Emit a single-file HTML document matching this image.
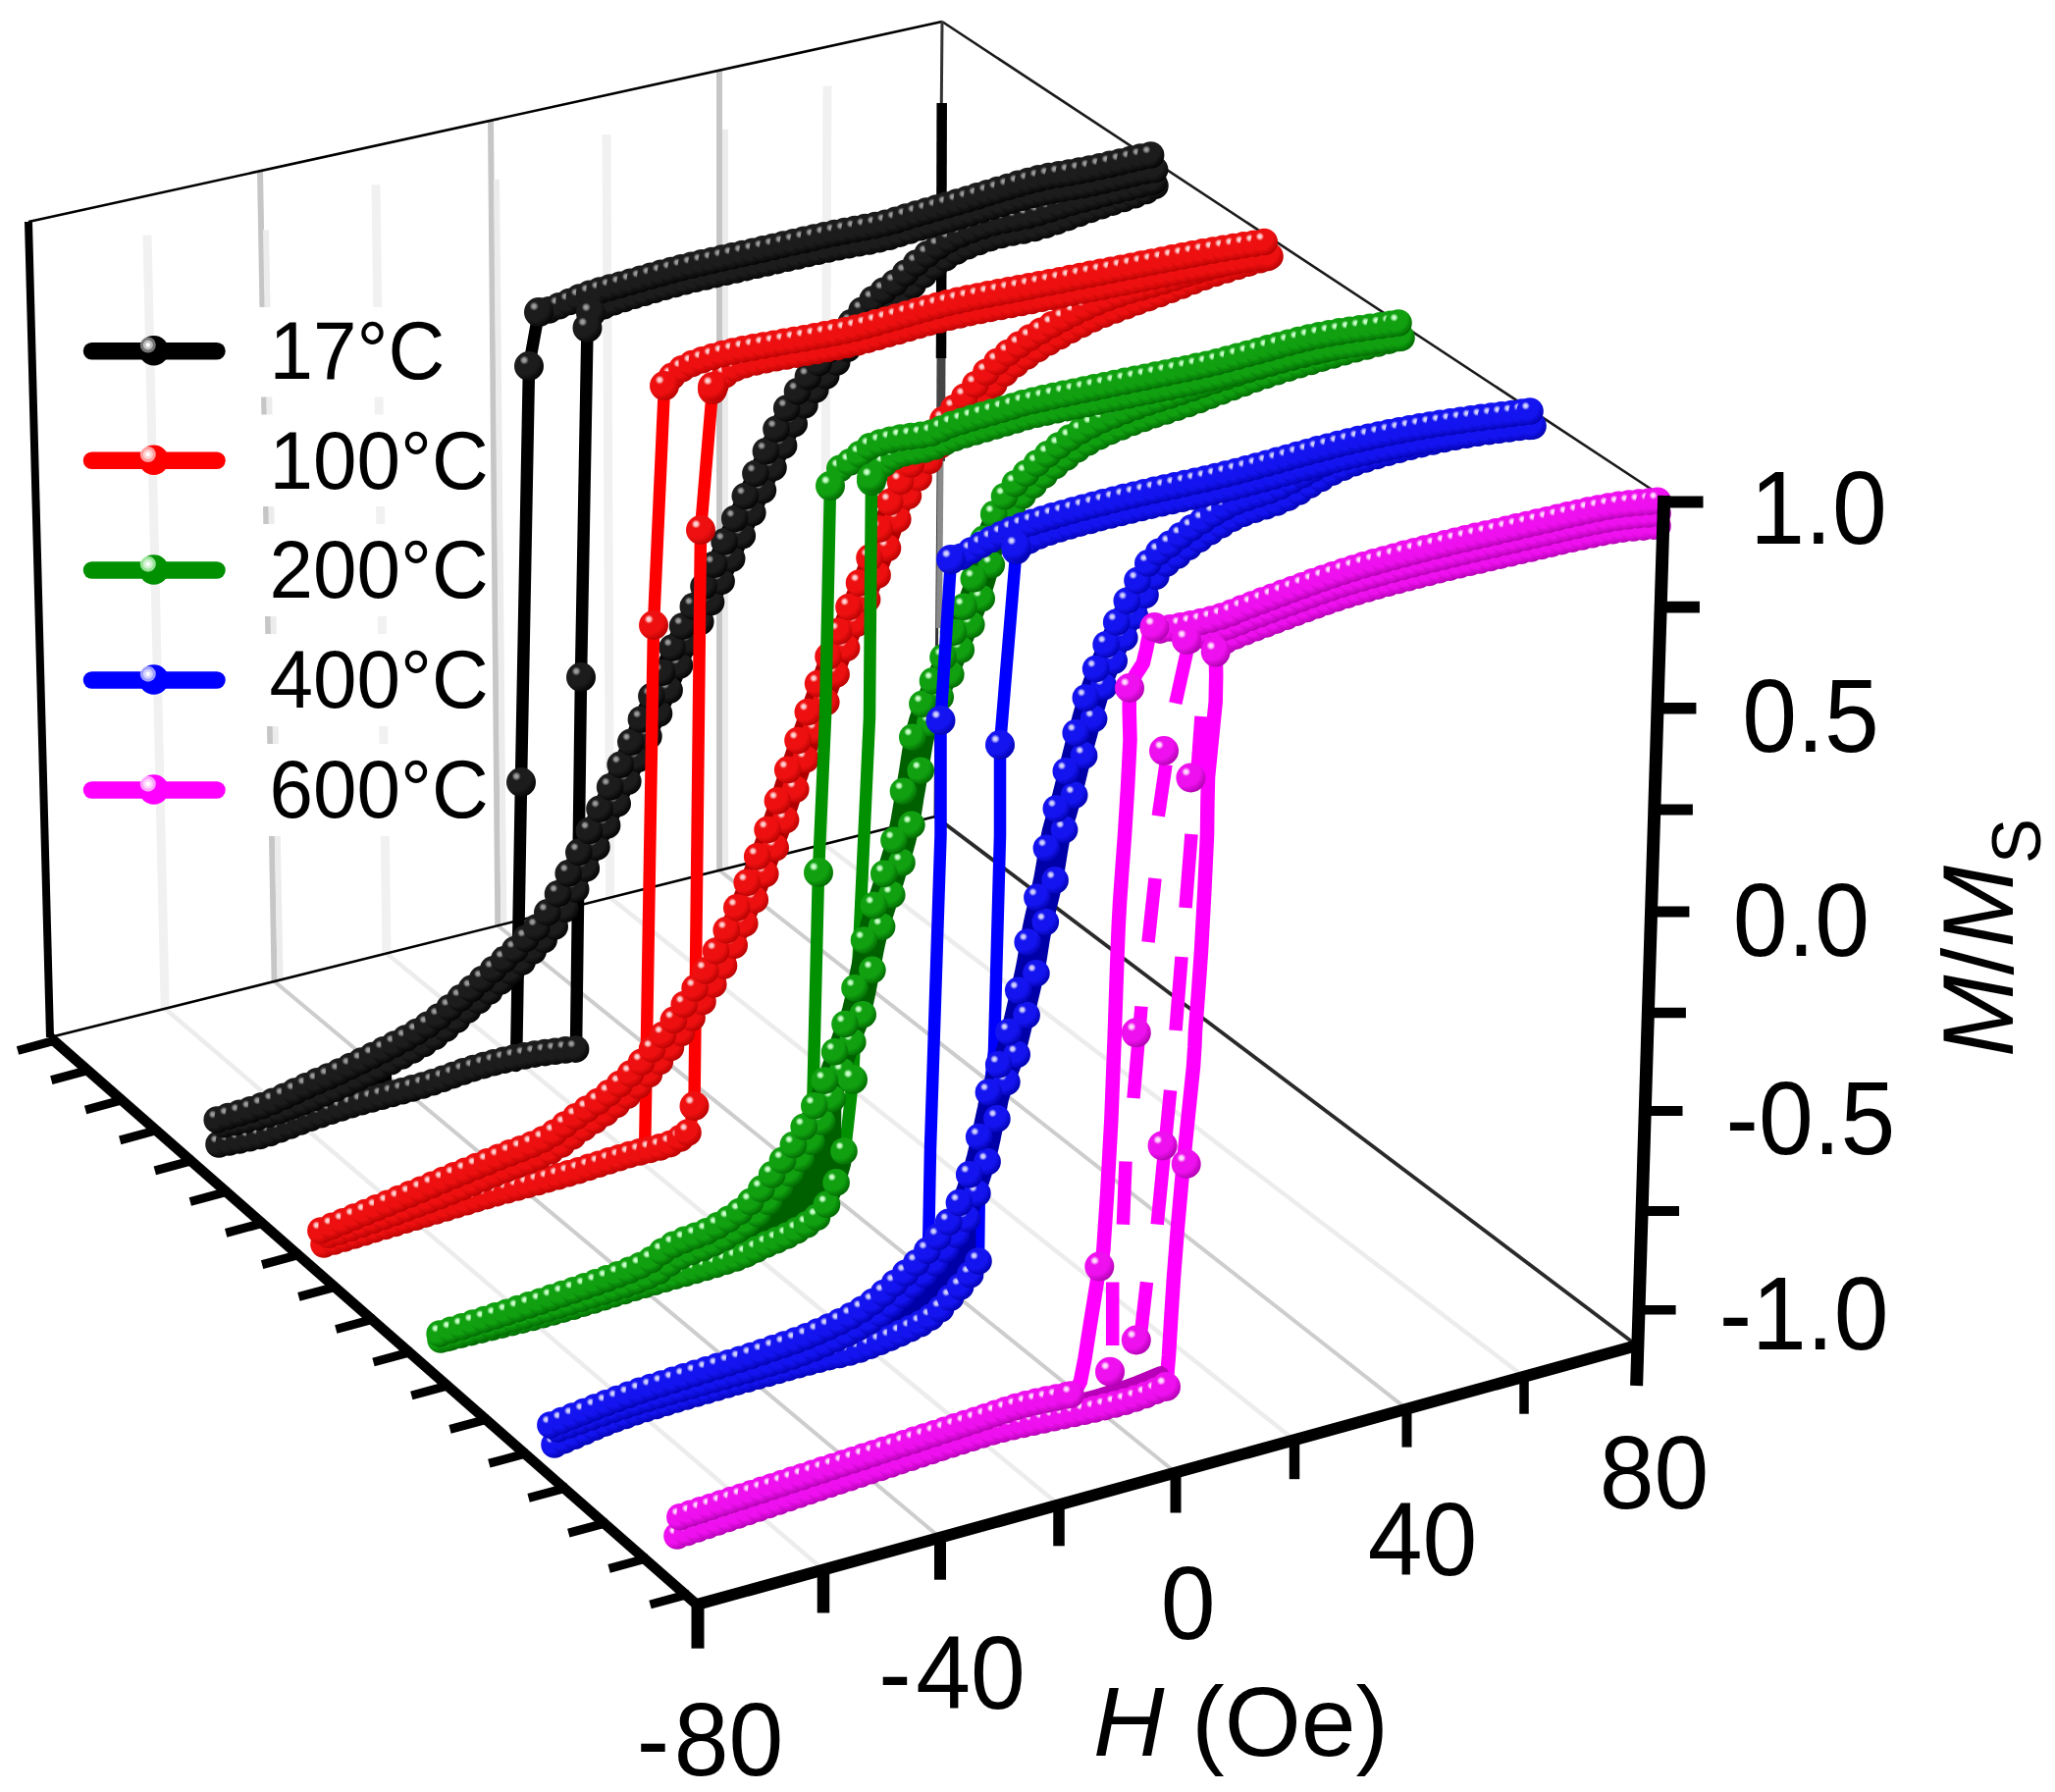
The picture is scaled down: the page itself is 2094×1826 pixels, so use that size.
<!DOCTYPE html>
<html lang="en"><head><meta charset="utf-8"><title>M/Ms vs H hysteresis loops at different temperatures</title>
<style>html,body{margin:0;padding:0;background:#fff}body{width:2094px;height:1826px;overflow:hidden}</style></head>
<body>
<svg width="2094" height="1826" viewBox="0 0 2094 1826" style="display:block" font-family="'Liberation Sans', sans-serif">
<defs>
<radialGradient id="gk" cx="0.34" cy="0.30" r="0.78"><stop offset="0" stop-color="#9a9a9a"/><stop offset="0.07" stop-color="#9a9a9a"/><stop offset="0.2" stop-color="#1c1c1c"/><stop offset="0.62" stop-color="#1c1c1c"/><stop offset="1" stop-color="#000000"/></radialGradient>
<radialGradient id="gr" cx="0.34" cy="0.30" r="0.78"><stop offset="0" stop-color="#ffd0d0"/><stop offset="0.07" stop-color="#ffd0d0"/><stop offset="0.2" stop-color="#ee1010"/><stop offset="0.62" stop-color="#ee1010"/><stop offset="1" stop-color="#b00000"/></radialGradient>
<radialGradient id="gg" cx="0.34" cy="0.30" r="0.78"><stop offset="0" stop-color="#c8ffc8"/><stop offset="0.07" stop-color="#c8ffc8"/><stop offset="0.2" stop-color="#10a010"/><stop offset="0.62" stop-color="#10a010"/><stop offset="1" stop-color="#006000"/></radialGradient>
<radialGradient id="gb" cx="0.34" cy="0.30" r="0.78"><stop offset="0" stop-color="#d0d0ff"/><stop offset="0.07" stop-color="#d0d0ff"/><stop offset="0.2" stop-color="#1414f0"/><stop offset="0.62" stop-color="#1414f0"/><stop offset="1" stop-color="#0000a8"/></radialGradient>
<radialGradient id="gm" cx="0.34" cy="0.30" r="0.78"><stop offset="0" stop-color="#ffd8ff"/><stop offset="0.07" stop-color="#ffd8ff"/><stop offset="0.2" stop-color="#ee10ee"/><stop offset="0.62" stop-color="#ee10ee"/><stop offset="1" stop-color="#a800a8"/></radialGradient>
</defs>
<rect width="2094" height="1826" fill="#fff"/>
<g stroke-linecap="butt">
<line x1="150.0" y1="239.5" x2="168.2" y2="1027.8" stroke="#f1f1f1" stroke-width="9" stroke-linecap="butt" />
<line x1="168.2" y1="1027.8" x2="839.0" y2="1599.5" stroke="#ececec" stroke-width="4.5" stroke-linecap="butt" />
<line x1="265.0" y1="174.3" x2="279.6" y2="1000.0" stroke="#c6c6c6" stroke-width="6" stroke-linecap="butt" />
<line x1="271.0" y1="234.3" x2="285.6" y2="1000.0" stroke="#ececec" stroke-width="6" stroke-linecap="butt" />
<line x1="279.6" y1="1000.0" x2="958.0" y2="1566.7" stroke="#cdcdcd" stroke-width="4" stroke-linecap="butt" />
<line x1="383.0" y1="188.4" x2="394.0" y2="971.4" stroke="#f1f1f1" stroke-width="9" stroke-linecap="butt" />
<line x1="394.0" y1="971.4" x2="1079.0" y2="1533.3" stroke="#ececec" stroke-width="4.5" stroke-linecap="butt" />
<line x1="500.0" y1="122.8" x2="507.3" y2="943.2" stroke="#c6c6c6" stroke-width="6" stroke-linecap="butt" />
<line x1="506.0" y1="182.8" x2="513.3" y2="943.2" stroke="#ececec" stroke-width="6" stroke-linecap="butt" />
<line x1="507.3" y1="943.2" x2="1198.0" y2="1500.5" stroke="#cdcdcd" stroke-width="4" stroke-linecap="butt" />
<line x1="618.0" y1="136.9" x2="621.7" y2="914.7" stroke="#f1f1f1" stroke-width="9" stroke-linecap="butt" />
<line x1="621.7" y1="914.7" x2="1319.0" y2="1467.2" stroke="#ececec" stroke-width="4.5" stroke-linecap="butt" />
<line x1="733.0" y1="71.7" x2="733.1" y2="886.9" stroke="#c6c6c6" stroke-width="6" stroke-linecap="butt" />
<line x1="739.0" y1="131.7" x2="739.1" y2="886.9" stroke="#ececec" stroke-width="6" stroke-linecap="butt" />
<line x1="733.1" y1="886.9" x2="1433.5" y2="1435.6" stroke="#cdcdcd" stroke-width="4" stroke-linecap="butt" />
<line x1="843.0" y1="87.6" x2="839.6" y2="860.3" stroke="#f1f1f1" stroke-width="9" stroke-linecap="butt" />
<line x1="839.6" y1="860.3" x2="1553.0" y2="1402.7" stroke="#ececec" stroke-width="4.5" stroke-linecap="butt" />
</g>
<rect x="252" y="313" width="244" height="91.5" fill="#fff"/>
<rect x="252" y="422.5" width="244" height="93.5" fill="#fff"/>
<rect x="252" y="534" width="244" height="94" fill="#fff"/>
<rect x="252" y="646" width="244" height="94" fill="#fff"/>
<rect x="252" y="758" width="244" height="94" fill="#fff"/>
<line x1="29.0" y1="226.0" x2="960.0" y2="22.0" stroke="#000" stroke-width="2.6" stroke-linecap="butt" />
<line x1="960.0" y1="22.0" x2="1694.0" y2="506.0" stroke="#1a1a1a" stroke-width="2.6" stroke-linecap="butt" />
<line x1="51.0" y1="1057.0" x2="953.0" y2="832.0" stroke="#000" stroke-width="2.6" stroke-linecap="butt" />
<line x1="953.0" y1="832.0" x2="1668.0" y2="1371.0" stroke="#2a2a2a" stroke-width="3.8" stroke-linecap="butt" />
<line x1="960.0" y1="22.0" x2="953.0" y2="832.0" stroke="#333" stroke-width="3" stroke-linecap="butt" />
<line x1="959.7" y1="105.0" x2="959.0" y2="365.0" stroke="#000" stroke-width="10.5" stroke-linecap="butt" />
<line x1="959.0" y1="365.0" x2="958.5" y2="470.0" stroke="#444" stroke-width="9" stroke-linecap="butt" />
<line x1="958.5" y1="470.0" x2="957.0" y2="640.0" stroke="#8a8a8a" stroke-width="6" stroke-linecap="butt" />
<line x1="29.0" y1="226.0" x2="51.0" y2="1057.0" stroke="#000" stroke-width="8" stroke-linecap="butt" />
<path d="M549.0 318.1 L539.0 373.0 L531.0 797.0 L526.0 1086.0" fill="none" stroke="#000000" stroke-width="12.5" stroke-linejoin="round" stroke-linecap="round" />
<path d="M602.0 319.1 L598.5 334.0 L592.0 690.0 L587.0 1069.0" fill="none" stroke="#000000" stroke-width="12.5" stroke-linejoin="round" stroke-linecap="round" />
<path d="M222.0 1144.0 L228.0 1142.4 L234.0 1140.9 L240.0 1139.4 L246.1 1137.9 L252.1 1136.3 L258.1 1134.7 L264.0 1132.9 L270.0 1131.0 L275.9 1128.9 L281.8 1126.7 L287.7 1124.4 L293.6 1122.0 L299.4 1119.5 L305.3 1117.0 L311.1 1114.5 L317.0 1112.0 L322.7 1109.6 L328.2 1107.3 L333.6 1105.0 L339.1 1102.6 L344.7 1100.1 L350.6 1097.4 L357.0 1094.4 L364.0 1091.0 L371.8 1087.1 L380.4 1082.9 L389.6 1078.3 L399.0 1073.6 L408.4 1068.7 L417.6 1063.7 L426.2 1058.8 L434.0 1054.0 L441.1 1049.2 L447.6 1044.4 L453.8 1039.5 L459.7 1034.6 L465.3 1029.8 L470.6 1025.0 L475.9 1020.4 L481.0 1016.0 L486.0 1011.7 L490.9 1007.6 L495.5 1003.5 L499.9 999.6 L504.2 995.7 L508.3 992.0 L512.2 988.4 L516.0 985.0 L519.5 981.8 L522.7 978.9 L525.7 976.3 L528.5 973.7 L531.3 971.1 L534.0 968.3 L536.9 965.3 L540.0 962.0 L543.1 958.7 L546.0 955.9 L548.9 953.0 L551.8 949.9 L555.0 946.2 L558.5 941.5 L562.5 935.6 L567.0 928.0 L572.2 918.6 L578.0 907.6 L584.3 895.3 L590.9 882.1 L597.7 868.2 L604.5 854.0 L611.4 839.8 L618.0 826.0 L624.7 811.8 L631.8 796.8 L639.0 781.2 L646.2 765.6 L653.2 750.4 L659.7 735.9 L665.7 722.6 L671.0 711.0 L675.3 701.2 L678.9 692.9 L681.8 685.9 L684.4 679.6 L686.8 673.7 L689.2 667.9 L691.9 661.8 L695.0 655.0 L698.6 647.7 L702.4 640.3 L706.3 632.7 L710.3 625.2 L714.4 617.6 L718.4 610.0 L722.3 602.5 L726.0 595.0 L729.5 587.7 L732.8 580.6 L736.0 573.6 L739.2 566.6 L742.4 559.5 L745.7 552.1 L749.2 544.3 L753.0 536.0 L757.2 526.9 L761.7 517.0 L766.5 506.6 L771.3 496.1 L776.1 485.6 L780.8 475.6 L785.1 466.3 L789.0 458.0 L792.4 450.8 L795.3 444.5 L798.0 438.8 L800.5 433.6 L802.9 428.6 L805.4 423.9 L808.1 419.0 L811.0 414.0 L814.1 409.0 L817.1 404.3 L820.2 399.8 L823.4 395.4 L826.8 390.8 L830.5 386.0 L834.5 380.8 L839.0 375.0 L844.2 368.4 L850.0 361.1 L856.3 353.2 L862.8 345.1 L869.4 337.2 L875.7 329.6 L881.7 322.8 L887.0 317.0 L891.8 312.3 L896.2 308.3 L900.3 305.0 L904.1 302.1 L907.8 299.6 L911.3 297.1 L914.7 294.7 L918.0 292.0 L921.1 289.3 L923.9 286.7 L926.5 284.2 L929.0 281.8 L931.5 279.4 L934.1 277.0 L936.9 274.6 L940.0 272.0 L943.4 269.3 L946.9 266.5 L950.5 263.6 L954.2 260.8 L958.2 257.9 L962.3 255.1 L966.5 252.5 L971.0 250.0 L975.7 247.7 L980.7 245.4 L985.9 243.3 L991.3 241.2 L996.8 239.2 L1002.2 237.4 L1007.7 235.6 L1013.0 234.0 L1018.2 232.6 L1023.2 231.4 L1028.3 230.5 L1033.3 229.6 L1038.4 228.7 L1043.7 227.6 L1049.2 226.5 L1055.0 225.0 L1061.1 223.2 L1067.5 221.3 L1074.1 219.1 L1080.9 216.9 L1087.7 214.6 L1094.6 212.3 L1101.3 210.1 L1108.0 208.0 L1114.8 206.0 L1121.9 203.9 L1129.2 201.8 L1136.3 199.8 L1143.2 197.9 L1149.6 196.1 L1155.2 194.4 L1160.0 193.0 L1163.7 191.8 L1166.5 190.9 L1168.6 190.1 L1170.2 189.4 L1171.6 188.9 L1172.8 188.3 L1174.2 187.7 L1176.0 187.0" fill="none" stroke="#000000" stroke-width="30" stroke-linejoin="round" stroke-linecap="butt" />
<path d="M549.0 318.1 L555.2 317.6 L561.4 315.2 L567.6 312.7 L574.0 310.1 L580.4 307.4 L586.9 304.6 L593.6 301.8 L601.0 299.1 L608.6 298.7 L616.5 298.8 L625.4 299.0 L636.0 296.6 L648.6 293.0 L662.9 288.8 L678.4 284.4 L695.0 280.1 L713.0 275.8 L732.3 271.4 L752.3 267.0 L772.0 262.6 L792.1 258.0 L812.8 253.3 L832.5 248.9 L850.0 245.1 L864.6 242.2 L877.2 239.9 L888.5 237.8 L899.0 235.6 L908.1 233.3 L915.8 230.9 L923.6 228.5 L933.0 225.6 L944.3 222.3 L956.8 218.8 L970.3 214.9 L985.0 210.6 L1001.6 205.6 L1019.9 200.0 L1038.3 194.6 L1055.0 190.1 L1069.5 186.9 L1082.6 184.6 L1095.2 182.5 L1108.0 180.1 L1121.9 177.0 L1136.4 173.7 L1149.6 170.5 L1160.0 168.1 L1166.4 166.7 L1169.8 166.0 L1172.1 165.6 L1175.0 165.1" fill="none" stroke="#000000" stroke-width="18" stroke-linejoin="round" stroke-linecap="round" />
<path d="M616.5 298.8 L625.4 299.0 L636.0 296.6 L648.6 293.0 L662.9 288.8 L678.4 284.4 L695.0 280.1 L713.0 275.8 L732.3 271.4 L752.3 267.0 L772.0 262.6 L792.1 258.0 L812.8 253.3 L832.5 248.9 L850.0 245.1 L864.6 242.2 L877.2 239.9 L888.5 237.8 L899.0 235.6 L908.1 233.3 L915.8 230.9 L923.6 228.5 L933.0 225.6 L944.3 222.3 L956.8 218.8 L970.3 214.9 L985.0 210.6 L1001.6 205.6 L1019.9 200.0 L1038.3 194.6 L1055.0 190.1 L1069.5 186.9 L1082.6 184.6 L1095.2 182.5 L1108.0 180.1 L1121.9 177.0 L1136.4 173.7 L1149.6 170.5 L1160.0 168.1 L1166.4 166.7 L1169.8 166.0 L1172.1 165.6 L1175.0 165.1" fill="none" stroke="#000000" stroke-width="32" stroke-linejoin="round" stroke-linecap="butt" />
<path d="M223.0 1166.0 L234.8 1163.7 L246.5 1161.4 L258.2 1159.0 L270.0 1156.0 L281.8 1152.2 L293.5 1147.8 L305.2 1143.3 L317.0 1139.0 L328.2 1135.2 L339.1 1131.6 L350.6 1128.0 L364.0 1124.0 L380.4 1119.5 L399.0 1114.6 L417.6 1109.6 L434.0 1105.0 L447.4 1100.7 L458.9 1096.6 L469.8 1092.6 L481.0 1089.0 L492.8 1085.6 L504.5 1082.4 L516.2 1079.6 L528.0 1077.0 L540.5 1074.8 L553.6 1072.8 L565.6 1071.2 L575.0 1070.0 L580.6 1069.3 L583.6 1069.1 L585.5 1069.1 L588.0 1069.0" fill="none" stroke="#000000" stroke-width="18" stroke-linejoin="round" stroke-linecap="round" />
<path d="M222.0 1144.0 L228.0 1142.4 L234.0 1140.9 L240.0 1139.4 L246.1 1137.9 L252.1 1136.3 L258.1 1134.7 L264.0 1132.9 L270.0 1131.0 L275.9 1128.9 L281.8 1126.7 L287.7 1124.4 L293.6 1122.0 L299.4 1119.5 L305.3 1117.0 L311.1 1114.5 L317.0 1112.0 L322.7 1109.6 L328.2 1107.3 L333.6 1105.0 L339.1 1102.6 L344.7 1100.1 L350.6 1097.4 L357.0 1094.4 L364.0 1091.0 L371.8 1087.1 L380.4 1082.9 L389.6 1078.3 L399.0 1073.6 L399.0 1114.6 L380.4 1119.5 L364.0 1124.0 L350.6 1128.0 L339.1 1131.6 L328.2 1135.2 L317.0 1139.0 L305.2 1143.3 L293.5 1147.8 L281.8 1152.2 L270.0 1156.0 L258.2 1159.0 L246.5 1161.4 L234.8 1163.7 L223.0 1166.0Z" fill="#000000"/>
<g fill="url(#gk)"><circle cx="223.0" cy="1166.0" r="13.8"/><circle cx="233.4" cy="1163.9" r="13.8"/><circle cx="243.8" cy="1161.9" r="13.8"/><circle cx="254.3" cy="1159.8" r="13.8"/><circle cx="264.7" cy="1157.4" r="13.8"/><circle cx="275.0" cy="1154.4" r="13.8"/><circle cx="285.4" cy="1150.8" r="13.8"/><circle cx="295.7" cy="1146.9" r="13.8"/><circle cx="306.1" cy="1143.0" r="13.8"/><circle cx="316.4" cy="1139.2" r="13.8"/><circle cx="326.8" cy="1135.7" r="13.8"/><circle cx="337.2" cy="1132.3" r="13.8"/><circle cx="347.5" cy="1129.0" r="13.8"/><circle cx="357.9" cy="1125.8" r="13.8"/><circle cx="368.3" cy="1122.8" r="13.8"/><circle cx="378.7" cy="1119.9" r="13.8"/><circle cx="389.0" cy="1117.2" r="13.8"/><circle cx="399.4" cy="1114.4" r="13.8"/><circle cx="409.8" cy="1111.7" r="13.8"/><circle cx="420.2" cy="1108.9" r="13.8"/><circle cx="430.6" cy="1106.0" r="13.8"/><circle cx="441.0" cy="1102.8" r="13.8"/><circle cx="451.3" cy="1099.3" r="13.8"/><circle cx="461.7" cy="1095.6" r="13.8"/><circle cx="472.0" cy="1091.9" r="13.8"/><circle cx="482.4" cy="1088.6" r="13.8"/><circle cx="492.8" cy="1085.6" r="13.8"/><circle cx="503.2" cy="1082.8" r="13.8"/><circle cx="513.6" cy="1080.2" r="13.8"/><circle cx="524.0" cy="1077.9" r="13.8"/><circle cx="534.4" cy="1075.9" r="13.8"/><circle cx="544.8" cy="1074.1" r="13.8"/><circle cx="555.3" cy="1072.6" r="13.8"/><circle cx="565.7" cy="1071.2" r="13.8"/><circle cx="576.2" cy="1069.9" r="13.8"/><circle cx="586.6" cy="1069.1" r="13.8"/></g>
<g fill="url(#gk)"><circle cx="228.3" cy="1145.8" r="13.8"/><circle cx="239.7" cy="1143.4" r="13.8"/><circle cx="251.1" cy="1141.0" r="13.8"/><circle cx="262.5" cy="1138.3" r="13.8"/><circle cx="273.8" cy="1135.1" r="13.8"/><circle cx="285.2" cy="1131.4" r="13.8"/><circle cx="296.5" cy="1127.3" r="13.8"/><circle cx="307.8" cy="1123.0" r="13.8"/><circle cx="319.2" cy="1118.7" r="13.8"/><circle cx="330.5" cy="1113.9" r="13.8"/><circle cx="341.8" cy="1109.1" r="13.8"/><circle cx="353.1" cy="1104.0" r="13.8"/><circle cx="364.4" cy="1098.6" r="13.8"/><circle cx="375.6" cy="1093.1" r="13.8"/><circle cx="386.9" cy="1087.5" r="13.8"/><circle cx="398.2" cy="1081.8" r="13.8"/><circle cx="409.5" cy="1076.0" r="13.8"/><circle cx="420.7" cy="1070.0" r="13.8"/><circle cx="432.0" cy="1063.5" r="13.8"/><circle cx="443.2" cy="1056.3" r="13.8"/><circle cx="454.3" cy="1048.0" r="13.8"/><circle cx="465.5" cy="1038.9" r="13.8"/><circle cx="476.6" cy="1029.1" r="13.8"/><circle cx="487.7" cy="1019.5" r="13.8"/><circle cx="498.8" cy="1009.9" r="13.8"/><circle cx="509.9" cy="1000.0" r="13.8"/><circle cx="521.0" cy="989.9" r="13.8"/><circle cx="532.1" cy="979.9" r="13.8"/><circle cx="543.2" cy="968.9" r="13.8"/><circle cx="554.2" cy="957.6" r="13.8"/><circle cx="565.2" cy="944.1" r="13.8"/><circle cx="576.0" cy="926.3" r="13.8"/><circle cx="586.7" cy="906.0" r="13.8"/><circle cx="597.3" cy="884.8" r="13.8"/><circle cx="607.9" cy="863.1" r="13.8"/><circle cx="618.6" cy="841.0" r="13.8"/><circle cx="629.2" cy="818.8" r="13.8"/><circle cx="639.8" cy="796.2" r="13.8"/><circle cx="650.4" cy="773.3" r="13.8"/><circle cx="660.9" cy="750.2" r="13.8"/><circle cx="671.5" cy="726.9" r="13.8"/><circle cx="682.1" cy="703.3" r="13.8"/><circle cx="692.5" cy="678.1" r="13.8"/><circle cx="703.1" cy="654.4" r="13.8"/><circle cx="713.8" cy="633.6" r="13.8"/><circle cx="724.5" cy="613.5" r="13.8"/><circle cx="735.1" cy="592.2" r="13.8"/><circle cx="745.7" cy="569.2" r="13.8"/><circle cx="756.3" cy="545.7" r="13.8"/><circle cx="766.8" cy="522.6" r="13.8"/><circle cx="777.4" cy="499.6" r="13.8"/><circle cx="788.0" cy="476.6" r="13.8"/><circle cx="798.6" cy="454.1" r="13.8"/><circle cx="809.2" cy="431.8" r="13.8"/><circle cx="819.9" cy="412.8" r="13.8"/><circle cx="830.8" cy="397.1" r="13.8"/><circle cx="841.7" cy="382.9" r="13.8"/><circle cx="852.7" cy="368.9" r="13.8"/><circle cx="863.6" cy="355.2" r="13.8"/><circle cx="874.6" cy="341.8" r="13.8"/><circle cx="885.6" cy="329.0" r="13.8"/><circle cx="896.6" cy="317.3" r="13.8"/><circle cx="907.7" cy="308.2" r="13.8"/><circle cx="918.9" cy="300.2" r="13.8"/><circle cx="930.0" cy="290.5" r="13.8"/><circle cx="941.1" cy="280.1" r="13.8"/><circle cx="952.3" cy="271.1" r="13.8"/><circle cx="963.4" cy="262.8" r="13.8"/><circle cx="974.7" cy="256.0" r="13.8"/><circle cx="986.0" cy="250.8" r="13.8"/><circle cx="997.3" cy="246.5" r="13.8"/><circle cx="1008.6" cy="242.7" r="13.8"/><circle cx="1020.0" cy="239.4" r="13.8"/><circle cx="1031.4" cy="237.0" r="13.8"/><circle cx="1042.8" cy="234.9" r="13.8"/><circle cx="1054.2" cy="232.4" r="13.8"/><circle cx="1065.6" cy="229.2" r="13.8"/><circle cx="1076.9" cy="225.6" r="13.8"/><circle cx="1088.3" cy="221.6" r="13.8"/><circle cx="1099.6" cy="217.4" r="13.8"/><circle cx="1111.0" cy="213.4" r="13.8"/><circle cx="1122.3" cy="209.7" r="13.8"/><circle cx="1133.7" cy="206.1" r="13.8"/><circle cx="1145.0" cy="202.5" r="13.8"/><circle cx="1156.4" cy="198.8" r="13.8"/><circle cx="1167.7" cy="194.5" r="13.8"/><circle cx="1176.9" cy="189.3" r="13.8"/></g>
<g fill="url(#gk)"><circle cx="221.2" cy="1141.0" r="13.8"/><circle cx="232.6" cy="1137.5" r="13.8"/><circle cx="243.9" cy="1134.2" r="13.8"/><circle cx="255.3" cy="1130.7" r="13.8"/><circle cx="266.6" cy="1126.8" r="13.8"/><circle cx="278.0" cy="1122.3" r="13.8"/><circle cx="289.3" cy="1117.3" r="13.8"/><circle cx="300.5" cy="1112.1" r="13.8"/><circle cx="311.8" cy="1106.7" r="13.8"/><circle cx="323.1" cy="1101.8" r="13.8"/><circle cx="334.4" cy="1097.0" r="13.8"/><circle cx="345.7" cy="1092.0" r="13.8"/><circle cx="357.0" cy="1086.6" r="13.8"/><circle cx="368.3" cy="1081.1" r="13.8"/><circle cx="379.6" cy="1075.5" r="13.8"/><circle cx="390.9" cy="1069.8" r="13.8"/><circle cx="402.1" cy="1064.0" r="13.8"/><circle cx="413.4" cy="1058.0" r="13.8"/><circle cx="424.6" cy="1051.5" r="13.8"/><circle cx="435.8" cy="1044.3" r="13.8"/><circle cx="447.0" cy="1036.0" r="13.8"/><circle cx="458.1" cy="1026.7" r="13.8"/><circle cx="469.2" cy="1016.9" r="13.8"/><circle cx="480.4" cy="1007.4" r="13.8"/><circle cx="491.5" cy="997.7" r="13.8"/><circle cx="502.6" cy="987.8" r="13.8"/><circle cx="513.7" cy="977.7" r="13.8"/><circle cx="524.8" cy="967.6" r="13.8"/><circle cx="535.8" cy="956.2" r="13.8"/><circle cx="546.9" cy="945.0" r="13.8"/><circle cx="557.8" cy="929.8" r="13.8"/><circle cx="568.5" cy="910.7" r="13.8"/><circle cx="579.2" cy="889.9" r="13.8"/><circle cx="589.8" cy="868.4" r="13.8"/><circle cx="600.4" cy="846.4" r="13.8"/><circle cx="611.0" cy="824.3" r="13.8"/><circle cx="621.6" cy="801.9" r="13.8"/><circle cx="632.2" cy="779.2" r="13.8"/><circle cx="642.8" cy="756.2" r="13.8"/><circle cx="653.4" cy="733.0" r="13.8"/><circle cx="663.9" cy="709.6" r="13.8"/><circle cx="674.5" cy="685.3" r="13.8"/><circle cx="685.0" cy="660.1" r="13.8"/><circle cx="695.6" cy="638.1" r="13.8"/><circle cx="706.3" cy="617.9" r="13.8"/><circle cx="717.0" cy="597.4" r="13.8"/><circle cx="727.6" cy="575.3" r="13.8"/><circle cx="738.1" cy="551.9" r="13.8"/><circle cx="748.7" cy="528.6" r="13.8"/><circle cx="759.3" cy="505.5" r="13.8"/><circle cx="769.9" cy="482.5" r="13.8"/><circle cx="780.4" cy="459.7" r="13.8"/><circle cx="791.0" cy="437.2" r="13.8"/><circle cx="801.7" cy="416.1" r="13.8"/><circle cx="812.5" cy="398.7" r="13.8"/><circle cx="823.4" cy="383.7" r="13.8"/><circle cx="834.3" cy="369.6" r="13.8"/><circle cx="845.3" cy="355.7" r="13.8"/><circle cx="856.2" cy="342.1" r="13.8"/><circle cx="867.2" cy="328.9" r="13.8"/><circle cx="878.2" cy="316.2" r="13.8"/><circle cx="889.3" cy="305.1" r="13.8"/><circle cx="900.4" cy="296.2" r="13.8"/><circle cx="911.6" cy="288.2" r="13.8"/><circle cx="922.7" cy="278.2" r="13.8"/><circle cx="933.8" cy="268.1" r="13.8"/><circle cx="944.9" cy="259.1" r="13.8"/><circle cx="956.1" cy="250.9" r="13.8"/><circle cx="967.3" cy="244.0" r="13.8"/><circle cx="978.6" cy="238.7" r="13.8"/><circle cx="989.9" cy="234.2" r="13.8"/><circle cx="1001.3" cy="230.3" r="13.8"/><circle cx="1012.6" cy="226.8" r="13.8"/><circle cx="1024.0" cy="224.2" r="13.8"/><circle cx="1035.4" cy="222.1" r="13.8"/><circle cx="1046.9" cy="219.8" r="13.8"/><circle cx="1058.2" cy="216.8" r="13.8"/><circle cx="1069.6" cy="213.2" r="13.8"/><circle cx="1080.9" cy="209.5" r="13.8"/><circle cx="1092.3" cy="206.1" r="13.8"/><circle cx="1103.7" cy="202.9" r="13.8"/><circle cx="1115.1" cy="199.9" r="13.8"/><circle cx="1126.4" cy="196.9" r="13.8"/><circle cx="1137.8" cy="194.1" r="13.8"/><circle cx="1149.2" cy="191.3" r="13.8"/><circle cx="1160.6" cy="188.5" r="13.8"/><circle cx="1172.0" cy="185.5" r="13.8"/><circle cx="1175.1" cy="184.7" r="13.8"/></g>
<g fill="url(#gk)"><circle cx="604.9" cy="317.1" r="13.8"/><circle cx="615.2" cy="311.7" r="13.8"/><circle cx="625.5" cy="307.8" r="13.8"/><circle cx="635.9" cy="304.4" r="13.8"/><circle cx="646.3" cy="301.3" r="13.8"/><circle cx="656.7" cy="298.2" r="13.8"/><circle cx="667.0" cy="295.2" r="13.8"/><circle cx="677.4" cy="292.3" r="13.8"/><circle cx="687.8" cy="289.5" r="13.8"/><circle cx="698.2" cy="286.8" r="13.8"/><circle cx="708.6" cy="284.3" r="13.8"/><circle cx="719.0" cy="281.9" r="13.8"/><circle cx="729.4" cy="279.6" r="13.8"/><circle cx="739.8" cy="277.2" r="13.8"/><circle cx="750.2" cy="274.9" r="13.8"/><circle cx="760.6" cy="272.6" r="13.8"/><circle cx="771.1" cy="270.3" r="13.8"/><circle cx="781.5" cy="268.0" r="13.8"/><circle cx="791.9" cy="265.6" r="13.8"/><circle cx="802.3" cy="263.2" r="13.8"/><circle cx="812.7" cy="260.9" r="13.8"/><circle cx="823.1" cy="258.5" r="13.8"/><circle cx="833.5" cy="256.2" r="13.8"/><circle cx="843.9" cy="253.9" r="13.8"/><circle cx="854.3" cy="251.7" r="13.8"/><circle cx="864.7" cy="249.7" r="13.8"/><circle cx="875.1" cy="247.8" r="13.8"/><circle cx="885.6" cy="245.9" r="13.8"/><circle cx="896.0" cy="243.7" r="13.8"/><circle cx="906.4" cy="241.2" r="13.8"/><circle cx="916.8" cy="238.1" r="13.8"/><circle cx="927.1" cy="234.9" r="13.8"/><circle cx="937.5" cy="231.8" r="13.8"/><circle cx="947.9" cy="228.8" r="13.8"/><circle cx="958.3" cy="225.8" r="13.8"/><circle cx="968.7" cy="222.8" r="13.8"/><circle cx="979.0" cy="219.8" r="13.8"/><circle cx="989.4" cy="216.8" r="13.8"/><circle cx="999.8" cy="213.7" r="13.8"/><circle cx="1010.2" cy="210.5" r="13.8"/><circle cx="1020.5" cy="207.4" r="13.8"/><circle cx="1030.9" cy="204.3" r="13.8"/><circle cx="1041.3" cy="201.3" r="13.8"/><circle cx="1051.7" cy="198.5" r="13.8"/><circle cx="1062.1" cy="196.0" r="13.8"/><circle cx="1072.5" cy="193.9" r="13.8"/><circle cx="1082.9" cy="192.0" r="13.8"/><circle cx="1093.3" cy="190.3" r="13.8"/><circle cx="1103.8" cy="188.4" r="13.8"/><circle cx="1114.2" cy="186.2" r="13.8"/><circle cx="1124.6" cy="183.9" r="13.8"/><circle cx="1135.0" cy="181.5" r="13.8"/><circle cx="1145.4" cy="179.0" r="13.8"/><circle cx="1155.8" cy="176.6" r="13.8"/><circle cx="1166.2" cy="174.3" r="13.8"/><circle cx="1176.6" cy="172.8" r="13.8"/></g>
<g fill="url(#gk)"><circle cx="549.0" cy="318.1" r="13.8"/><circle cx="559.4" cy="315.9" r="13.8"/><circle cx="569.7" cy="311.8" r="13.8"/><circle cx="580.1" cy="307.5" r="13.8"/><circle cx="590.4" cy="303.1" r="13.8"/><circle cx="600.7" cy="299.2" r="13.8"/><circle cx="611.1" cy="296.0" r="13.8"/><circle cx="621.5" cy="293.1" r="13.8"/><circle cx="631.9" cy="290.2" r="13.8"/><circle cx="642.3" cy="287.3" r="13.8"/><circle cx="652.6" cy="284.3" r="13.8"/><circle cx="663.0" cy="281.3" r="13.8"/><circle cx="673.4" cy="278.4" r="13.8"/><circle cx="683.8" cy="275.5" r="13.8"/><circle cx="694.2" cy="272.8" r="13.8"/><circle cx="704.6" cy="270.3" r="13.8"/><circle cx="715.0" cy="267.8" r="13.8"/><circle cx="725.4" cy="265.5" r="13.8"/><circle cx="735.8" cy="263.1" r="13.8"/><circle cx="746.2" cy="260.8" r="13.8"/><circle cx="756.6" cy="258.5" r="13.8"/><circle cx="767.0" cy="256.2" r="13.8"/><circle cx="777.4" cy="253.9" r="13.8"/><circle cx="787.8" cy="251.5" r="13.8"/><circle cx="798.2" cy="249.1" r="13.8"/><circle cx="808.6" cy="246.8" r="13.8"/><circle cx="819.1" cy="244.4" r="13.8"/><circle cx="829.5" cy="242.1" r="13.8"/><circle cx="839.9" cy="239.8" r="13.8"/><circle cx="850.3" cy="237.5" r="13.8"/><circle cx="860.7" cy="235.5" r="13.8"/><circle cx="871.1" cy="233.5" r="13.8"/><circle cx="881.5" cy="231.6" r="13.8"/><circle cx="892.0" cy="229.6" r="13.8"/><circle cx="902.4" cy="227.2" r="13.8"/><circle cx="912.8" cy="224.4" r="13.8"/><circle cx="923.1" cy="221.1" r="13.8"/><circle cx="933.5" cy="218.0" r="13.8"/><circle cx="943.9" cy="215.0" r="13.8"/><circle cx="954.3" cy="212.0" r="13.8"/><circle cx="964.6" cy="209.0" r="13.8"/><circle cx="975.0" cy="206.0" r="13.8"/><circle cx="985.4" cy="203.0" r="13.8"/><circle cx="995.8" cy="199.9" r="13.8"/><circle cx="1006.1" cy="196.7" r="13.8"/><circle cx="1016.5" cy="193.6" r="13.8"/><circle cx="1026.9" cy="190.5" r="13.8"/><circle cx="1037.3" cy="187.4" r="13.8"/><circle cx="1047.7" cy="184.6" r="13.8"/><circle cx="1058.1" cy="181.9" r="13.8"/><circle cx="1068.5" cy="179.6" r="13.8"/><circle cx="1078.9" cy="177.7" r="13.8"/><circle cx="1089.3" cy="176.0" r="13.8"/><circle cx="1099.7" cy="174.1" r="13.8"/><circle cx="1110.2" cy="172.1" r="13.8"/><circle cx="1120.6" cy="169.8" r="13.8"/><circle cx="1131.0" cy="167.4" r="13.8"/><circle cx="1141.4" cy="165.0" r="13.8"/><circle cx="1151.8" cy="162.5" r="13.8"/><circle cx="1162.2" cy="160.1" r="13.8"/><circle cx="1172.6" cy="158.0" r="13.8"/></g>
<g fill="url(#gk)"><circle cx="549.0" cy="318.1" r="15"/><circle cx="602.0" cy="319.1" r="15"/><circle cx="539.0" cy="373.0" r="15"/><circle cx="531.0" cy="797.0" r="15"/><circle cx="598.5" cy="334.0" r="15"/><circle cx="592.0" cy="690.0" r="15"/></g>
<path d="M677.0 393.1 L666.0 637.0 L657.0 1180.0" fill="none" stroke="#ff0000" stroke-width="12.5" stroke-linejoin="round" stroke-linecap="round" />
<path d="M726.0 397.1 L714.0 540.0 L707.5 1127.0 L702.0 1153.0" fill="none" stroke="#ff0000" stroke-width="12.5" stroke-linejoin="round" stroke-linecap="round" />
<path d="M328.0 1257.0 L332.3 1255.5 L336.2 1254.1 L340.0 1252.7 L343.9 1251.4 L348.0 1249.9 L352.6 1248.2 L357.9 1246.3 L364.0 1244.0 L371.1 1241.3 L379.1 1238.3 L387.7 1235.0 L396.8 1231.5 L406.2 1227.9 L415.6 1224.2 L425.0 1220.6 L434.0 1217.0 L443.0 1213.4 L452.1 1209.7 L461.4 1205.9 L470.6 1202.1 L479.7 1198.4 L488.6 1194.7 L497.0 1191.3 L505.0 1188.0 L512.5 1185.0 L519.8 1182.2 L526.7 1179.6 L533.4 1177.1 L539.7 1174.7 L545.8 1172.2 L551.5 1169.7 L557.0 1167.0 L562.0 1164.2 L566.6 1161.4 L570.7 1158.6 L574.6 1155.7 L578.4 1152.8 L582.1 1149.9 L586.0 1146.9 L590.0 1144.0 L594.2 1141.1 L598.5 1138.2 L602.7 1135.4 L607.0 1132.5 L611.3 1129.6 L615.5 1126.5 L619.8 1123.3 L624.0 1120.0 L628.2 1116.5 L632.3 1113.0 L636.4 1109.5 L640.5 1105.8 L644.6 1101.9 L648.7 1097.8 L652.8 1093.5 L657.0 1089.0 L661.2 1084.2 L665.5 1079.1 L669.7 1073.8 L674.0 1068.2 L678.3 1062.6 L682.5 1056.8 L686.8 1050.9 L691.0 1045.0 L695.2 1039.0 L699.4 1032.9 L703.6 1026.7 L707.8 1020.3 L712.0 1013.9 L716.1 1007.3 L720.1 1000.7 L724.0 994.0 L727.9 987.1 L731.7 980.0 L735.5 972.8 L739.2 965.5 L742.9 958.2 L746.4 951.0 L749.8 943.9 L753.0 937.0 L756.0 930.3 L758.9 923.8 L761.5 917.4 L764.1 911.1 L766.6 904.8 L769.1 898.5 L771.5 892.3 L774.0 886.0 L776.5 879.7 L778.9 873.4 L781.4 867.2 L783.8 860.9 L786.1 854.7 L788.5 848.5 L790.8 842.2 L793.0 836.0 L795.2 829.8 L797.3 823.5 L799.3 817.2 L801.3 811.0 L803.3 804.8 L805.4 798.5 L807.4 792.2 L809.5 786.0 L811.6 779.8 L813.7 773.7 L815.8 767.6 L818.0 761.5 L820.1 755.3 L822.4 749.1 L824.6 742.6 L827.0 736.0 L829.5 729.0 L832.1 721.7 L834.8 714.2 L837.5 706.6 L840.2 699.1 L842.9 691.7 L845.5 684.6 L848.0 678.0 L850.3 671.9 L852.5 666.4 L854.7 661.1 L856.8 656.1 L858.9 651.0 L861.1 645.7 L863.4 640.1 L866.0 634.0 L868.8 627.3 L871.9 620.3 L875.0 612.9 L878.3 605.4 L881.6 597.7 L884.9 590.0 L888.0 582.4 L891.0 575.0 L893.8 567.6 L896.6 559.9 L899.2 552.3 L901.8 544.6 L904.4 537.2 L906.9 530.0 L909.5 523.2 L912.0 517.0 L914.5 511.4 L916.9 506.3 L919.3 501.6 L921.7 497.2 L924.1 493.0 L926.6 488.8 L929.2 484.5 L932.0 480.0 L934.9 475.3 L938.0 470.5 L941.1 465.6 L944.3 460.8 L947.6 456.0 L951.0 451.2 L954.5 446.6 L958.0 442.0 L961.7 437.5 L965.5 433.1 L969.4 428.8 L973.4 424.5 L977.4 420.3 L981.4 416.1 L985.3 412.0 L989.0 408.0 L992.6 404.0 L996.0 400.0 L999.4 396.1 L1002.7 392.2 L1006.0 388.5 L1009.3 384.8 L1012.6 381.3 L1016.0 378.0 L1019.4 374.9 L1022.8 371.9 L1026.2 369.1 L1029.6 366.4 L1033.1 363.8 L1036.6 361.2 L1040.3 358.6 L1044.0 356.0 L1047.9 353.4 L1051.9 350.8 L1056.0 348.2 L1060.2 345.7 L1064.4 343.2 L1068.6 340.7 L1072.8 338.3 L1077.0 336.0 L1081.1 333.7 L1085.2 331.4 L1089.4 329.2 L1093.5 327.1 L1097.6 325.0 L1101.8 322.9 L1105.9 320.9 L1110.0 319.0 L1114.1 317.2 L1118.0 315.5 L1121.9 313.9 L1125.9 312.3 L1129.9 310.8 L1134.0 309.2 L1138.4 307.6 L1143.0 306.0 L1147.9 304.3 L1153.0 302.6 L1158.3 300.9 L1163.8 299.1 L1169.4 297.4 L1174.9 295.6 L1180.5 293.8 L1186.0 292.0 L1191.3 290.2 L1196.5 288.4 L1201.7 286.5 L1206.9 284.7 L1212.2 282.8 L1217.8 280.9 L1223.7 279.0 L1230.0 277.0 L1236.8 275.0 L1244.1 272.9 L1251.6 270.8 L1259.4 268.6 L1267.4 266.5 L1275.4 264.3 L1283.3 262.1 L1291.0 260.0" fill="none" stroke="#b00000" stroke-width="30" stroke-linejoin="round" stroke-linecap="butt" />
<path d="M677.0 393.1 L675.8 394.3 L678.6 390.4 L681.5 386.6 L685.0 383.1 L688.9 379.9 L693.1 376.9 L698.0 374.0 L704.0 371.1 L711.4 368.2 L720.1 365.3 L729.1 363.5 L738.0 363.7 L745.5 364.1 L752.2 364.3 L760.4 362.7 L772.0 360.6 L789.3 357.5 L810.6 353.8 L832.1 349.9 L850.0 346.6 L861.8 344.2 L870.0 342.3 L878.2 340.2 L890.0 337.1 L906.6 332.5 L926.1 326.9 L947.0 321.0 L968.0 315.6 L989.1 310.9 L1010.9 306.6 L1033.0 302.4 L1055.0 298.1 L1077.0 293.7 L1099.0 289.3 L1121.0 284.9 L1143.0 280.6 L1165.4 276.2 L1188.2 271.6 L1210.1 267.3 L1230.0 263.6 L1247.1 260.6 L1262.1 258.2 L1276.4 255.9 L1291.0 253.6" fill="none" stroke="#b00000" stroke-width="18" stroke-linejoin="round" stroke-linecap="round" />
<path d="M738.0 363.7 L745.5 364.1 L752.2 364.3 L760.4 362.7 L772.0 360.6 L789.3 357.5 L810.6 353.8 L832.1 349.9 L850.0 346.6 L861.8 344.2 L870.0 342.3 L878.2 340.2 L890.0 337.1 L906.6 332.5 L926.1 326.9 L947.0 321.0 L968.0 315.6 L989.1 310.9 L1010.9 306.6 L1033.0 302.4 L1055.0 298.1 L1077.0 293.7 L1099.0 289.3 L1121.0 284.9 L1143.0 280.6 L1165.4 276.2 L1188.2 271.6 L1210.1 267.3 L1230.0 263.6 L1247.1 260.6 L1262.1 258.2 L1276.4 255.9 L1291.0 253.6" fill="none" stroke="#b00000" stroke-width="32" stroke-linejoin="round" stroke-linecap="butt" />
<path d="M330.0 1268.0 L337.7 1265.8 L344.8 1263.7 L353.0 1261.3 L364.0 1258.0 L378.9 1253.5 L396.7 1248.2 L415.6 1242.5 L434.0 1237.0 L452.1 1231.6 L470.6 1226.1 L488.6 1220.8 L505.0 1216.0 L519.8 1211.9 L533.4 1208.3 L545.8 1205.0 L557.0 1202.0 L566.2 1199.4 L573.6 1197.3 L581.0 1195.2 L590.0 1192.5 L601.5 1188.9 L614.4 1184.8 L627.7 1180.7 L640.0 1177.0 L651.6 1174.0 L662.9 1171.3 L673.3 1168.7 L682.0 1166.0 L688.4 1163.1 L692.9 1160.1 L696.8 1157.0 L701.0 1154.0" fill="none" stroke="#b00000" stroke-width="18" stroke-linejoin="round" stroke-linecap="round" />
<path d="M328.0 1257.0 L332.3 1255.5 L336.2 1254.1 L340.0 1252.7 L343.9 1251.4 L348.0 1249.9 L352.6 1248.2 L357.9 1246.3 L364.0 1244.0 L371.1 1241.3 L379.1 1238.3 L387.7 1235.0 L396.8 1231.5 L406.2 1227.9 L415.6 1224.2 L425.0 1220.6 L434.0 1217.0 L443.0 1213.4 L452.1 1209.7 L461.4 1205.9 L470.6 1202.1 L479.7 1198.4 L488.6 1194.7 L497.0 1191.3 L505.0 1188.0 L512.5 1185.0 L519.8 1182.2 L526.7 1179.6 L533.4 1177.1 L539.7 1174.7 L545.8 1172.2 L551.5 1169.7 L557.0 1167.0 L557.0 1202.0 L545.8 1205.0 L533.4 1208.3 L519.8 1211.9 L505.0 1216.0 L488.6 1220.8 L470.6 1226.1 L452.1 1231.6 L434.0 1237.0 L415.6 1242.5 L396.7 1248.2 L378.9 1253.5 L364.0 1258.0 L353.0 1261.3 L344.8 1263.7 L337.7 1265.8 L330.0 1268.0Z" fill="#b00000"/>
<g fill="url(#gr)"><circle cx="330.0" cy="1268.0" r="13.8"/><circle cx="340.4" cy="1265.0" r="13.8"/><circle cx="350.8" cy="1261.9" r="13.8"/><circle cx="361.1" cy="1258.9" r="13.8"/><circle cx="371.5" cy="1255.8" r="13.8"/><circle cx="381.9" cy="1252.6" r="13.8"/><circle cx="392.3" cy="1249.5" r="13.8"/><circle cx="402.6" cy="1246.4" r="13.8"/><circle cx="413.0" cy="1243.3" r="13.8"/><circle cx="423.4" cy="1240.2" r="13.8"/><circle cx="433.8" cy="1237.1" r="13.8"/><circle cx="444.1" cy="1234.0" r="13.8"/><circle cx="454.5" cy="1230.9" r="13.8"/><circle cx="464.9" cy="1227.8" r="13.8"/><circle cx="475.3" cy="1224.7" r="13.8"/><circle cx="485.6" cy="1221.6" r="13.8"/><circle cx="496.0" cy="1218.6" r="13.8"/><circle cx="506.4" cy="1215.6" r="13.8"/><circle cx="516.8" cy="1212.7" r="13.8"/><circle cx="527.2" cy="1209.9" r="13.8"/><circle cx="537.6" cy="1207.2" r="13.8"/><circle cx="548.0" cy="1204.4" r="13.8"/><circle cx="558.3" cy="1201.6" r="13.8"/><circle cx="568.7" cy="1198.7" r="13.8"/><circle cx="579.1" cy="1195.7" r="13.8"/><circle cx="589.5" cy="1192.7" r="13.8"/><circle cx="599.9" cy="1189.4" r="13.8"/><circle cx="610.2" cy="1186.2" r="13.8"/><circle cx="620.6" cy="1182.9" r="13.8"/><circle cx="631.0" cy="1179.7" r="13.8"/><circle cx="641.3" cy="1176.6" r="13.8"/><circle cx="651.7" cy="1173.9" r="13.8"/><circle cx="662.1" cy="1171.5" r="13.8"/><circle cx="672.5" cy="1168.9" r="13.8"/><circle cx="682.9" cy="1165.6" r="13.8"/><circle cx="693.2" cy="1159.9" r="13.8"/><circle cx="701.0" cy="1154.0" r="13.8"/></g>
<g fill="url(#gr)"><circle cx="334.5" cy="1258.3" r="13.8"/><circle cx="345.9" cy="1254.9" r="13.8"/><circle cx="357.2" cy="1251.3" r="13.8"/><circle cx="368.6" cy="1247.5" r="13.8"/><circle cx="379.9" cy="1243.5" r="13.8"/><circle cx="391.2" cy="1239.5" r="13.8"/><circle cx="402.6" cy="1235.4" r="13.8"/><circle cx="413.9" cy="1231.3" r="13.8"/><circle cx="425.2" cy="1227.1" r="13.8"/><circle cx="436.6" cy="1222.9" r="13.8"/><circle cx="447.9" cy="1218.7" r="13.8"/><circle cx="459.2" cy="1214.3" r="13.8"/><circle cx="470.6" cy="1209.7" r="13.8"/><circle cx="481.9" cy="1205.1" r="13.8"/><circle cx="493.2" cy="1200.4" r="13.8"/><circle cx="504.5" cy="1195.8" r="13.8"/><circle cx="515.8" cy="1191.2" r="13.8"/><circle cx="527.1" cy="1186.9" r="13.8"/><circle cx="538.5" cy="1182.7" r="13.8"/><circle cx="549.8" cy="1178.1" r="13.8"/><circle cx="561.1" cy="1172.7" r="13.8"/><circle cx="572.3" cy="1166.0" r="13.8"/><circle cx="583.5" cy="1157.7" r="13.8"/><circle cx="594.6" cy="1149.3" r="13.8"/><circle cx="605.8" cy="1141.7" r="13.8"/><circle cx="617.0" cy="1134.1" r="13.8"/><circle cx="628.2" cy="1125.6" r="13.8"/><circle cx="639.3" cy="1116.2" r="13.8"/><circle cx="650.4" cy="1106.0" r="13.8"/><circle cx="661.4" cy="1094.5" r="13.8"/><circle cx="672.4" cy="1081.6" r="13.8"/><circle cx="683.4" cy="1067.5" r="13.8"/><circle cx="694.3" cy="1052.5" r="13.8"/><circle cx="705.1" cy="1036.9" r="13.8"/><circle cx="716.0" cy="1020.6" r="13.8"/><circle cx="726.8" cy="1003.1" r="13.8"/><circle cx="737.5" cy="984.0" r="13.8"/><circle cx="748.2" cy="963.2" r="13.8"/><circle cx="758.8" cy="941.1" r="13.8"/><circle cx="769.3" cy="916.8" r="13.8"/><circle cx="779.8" cy="890.4" r="13.8"/><circle cx="790.2" cy="863.7" r="13.8"/><circle cx="800.6" cy="835.5" r="13.8"/><circle cx="810.8" cy="804.3" r="13.8"/><circle cx="821.1" cy="773.7" r="13.8"/><circle cx="831.4" cy="744.4" r="13.8"/><circle cx="841.8" cy="715.4" r="13.8"/><circle cx="852.1" cy="686.9" r="13.8"/><circle cx="862.6" cy="660.3" r="13.8"/><circle cx="873.1" cy="635.2" r="13.8"/><circle cx="883.6" cy="610.8" r="13.8"/><circle cx="894.1" cy="586.0" r="13.8"/><circle cx="904.5" cy="558.4" r="13.8"/><circle cx="914.8" cy="528.9" r="13.8"/><circle cx="925.4" cy="505.2" r="13.8"/><circle cx="936.1" cy="486.7" r="13.8"/><circle cx="946.9" cy="469.5" r="13.8"/><circle cx="957.8" cy="453.8" r="13.8"/><circle cx="968.8" cy="440.0" r="13.8"/><circle cx="979.8" cy="428.0" r="13.8"/><circle cx="990.8" cy="416.4" r="13.8"/><circle cx="1001.8" cy="404.0" r="13.8"/><circle cx="1012.8" cy="391.4" r="13.8"/><circle cx="1023.9" cy="380.3" r="13.8"/><circle cx="1035.0" cy="371.1" r="13.8"/><circle cx="1046.2" cy="363.0" r="13.8"/><circle cx="1057.4" cy="355.6" r="13.8"/><circle cx="1068.6" cy="348.8" r="13.8"/><circle cx="1079.9" cy="342.4" r="13.8"/><circle cx="1091.1" cy="336.2" r="13.8"/><circle cx="1102.4" cy="330.4" r="13.8"/><circle cx="1113.7" cy="325.0" r="13.8"/><circle cx="1125.0" cy="320.2" r="13.8"/><circle cx="1136.3" cy="315.9" r="13.8"/><circle cx="1147.6" cy="311.8" r="13.8"/><circle cx="1159.0" cy="307.6" r="13.8"/><circle cx="1170.3" cy="303.6" r="13.8"/><circle cx="1181.6" cy="299.5" r="13.8"/><circle cx="1193.0" cy="295.3" r="13.8"/><circle cx="1204.3" cy="290.9" r="13.8"/><circle cx="1215.6" cy="286.4" r="13.8"/><circle cx="1227.0" cy="282.3" r="13.8"/><circle cx="1238.3" cy="278.5" r="13.8"/><circle cx="1249.7" cy="275.0" r="13.8"/><circle cx="1261.0" cy="271.5" r="13.8"/><circle cx="1272.4" cy="268.1" r="13.8"/><circle cx="1283.8" cy="264.8" r="13.8"/><circle cx="1291.7" cy="262.4" r="13.8"/></g>
<g fill="url(#gr)"><circle cx="326.9" cy="1254.0" r="13.8"/><circle cx="338.3" cy="1249.4" r="13.8"/><circle cx="349.6" cy="1244.7" r="13.8"/><circle cx="360.9" cy="1240.1" r="13.8"/><circle cx="372.2" cy="1235.5" r="13.8"/><circle cx="383.5" cy="1230.8" r="13.8"/><circle cx="394.8" cy="1226.2" r="13.8"/><circle cx="406.1" cy="1221.6" r="13.8"/><circle cx="417.5" cy="1216.9" r="13.8"/><circle cx="428.8" cy="1212.2" r="13.8"/><circle cx="440.1" cy="1207.4" r="13.8"/><circle cx="451.4" cy="1202.5" r="13.8"/><circle cx="462.7" cy="1197.8" r="13.8"/><circle cx="474.0" cy="1193.2" r="13.8"/><circle cx="485.3" cy="1188.5" r="13.8"/><circle cx="496.6" cy="1183.9" r="13.8"/><circle cx="507.9" cy="1179.3" r="13.8"/><circle cx="519.3" cy="1174.9" r="13.8"/><circle cx="530.6" cy="1170.7" r="13.8"/><circle cx="541.9" cy="1166.2" r="13.8"/><circle cx="553.2" cy="1161.1" r="13.8"/><circle cx="564.5" cy="1154.4" r="13.8"/><circle cx="575.6" cy="1146.1" r="13.8"/><circle cx="586.8" cy="1137.7" r="13.8"/><circle cx="598.0" cy="1130.1" r="13.8"/><circle cx="609.2" cy="1122.5" r="13.8"/><circle cx="620.3" cy="1113.9" r="13.8"/><circle cx="631.5" cy="1104.5" r="13.8"/><circle cx="642.5" cy="1094.1" r="13.8"/><circle cx="653.6" cy="1082.3" r="13.8"/><circle cx="664.5" cy="1069.0" r="13.8"/><circle cx="675.5" cy="1054.6" r="13.8"/><circle cx="686.4" cy="1039.4" r="13.8"/><circle cx="697.2" cy="1023.6" r="13.8"/><circle cx="708.1" cy="1006.9" r="13.8"/><circle cx="718.8" cy="988.9" r="13.8"/><circle cx="729.5" cy="969.1" r="13.8"/><circle cx="740.2" cy="947.8" r="13.8"/><circle cx="750.8" cy="924.9" r="13.8"/><circle cx="761.2" cy="899.3" r="13.8"/><circle cx="771.7" cy="872.8" r="13.8"/><circle cx="782.1" cy="845.5" r="13.8"/><circle cx="792.4" cy="815.9" r="13.8"/><circle cx="802.7" cy="784.4" r="13.8"/><circle cx="813.0" cy="754.6" r="13.8"/><circle cx="823.3" cy="725.5" r="13.8"/><circle cx="833.6" cy="696.6" r="13.8"/><circle cx="844.0" cy="668.9" r="13.8"/><circle cx="854.5" cy="643.3" r="13.8"/><circle cx="865.0" cy="618.5" r="13.8"/><circle cx="875.5" cy="594.1" r="13.8"/><circle cx="886.0" cy="568.4" r="13.8"/><circle cx="896.3" cy="539.0" r="13.8"/><circle cx="906.7" cy="511.6" r="13.8"/><circle cx="917.4" cy="490.6" r="13.8"/><circle cx="928.2" cy="472.9" r="13.8"/><circle cx="939.0" cy="456.2" r="13.8"/><circle cx="949.9" cy="441.0" r="13.8"/><circle cx="960.9" cy="427.8" r="13.8"/><circle cx="971.9" cy="415.9" r="13.8"/><circle cx="982.9" cy="404.2" r="13.8"/><circle cx="993.9" cy="391.7" r="13.8"/><circle cx="1004.9" cy="379.2" r="13.8"/><circle cx="1016.0" cy="368.5" r="13.8"/><circle cx="1027.2" cy="359.5" r="13.8"/><circle cx="1038.3" cy="351.4" r="13.8"/><circle cx="1049.5" cy="344.0" r="13.8"/><circle cx="1060.8" cy="337.2" r="13.8"/><circle cx="1072.0" cy="330.8" r="13.8"/><circle cx="1083.3" cy="324.6" r="13.8"/><circle cx="1094.5" cy="318.7" r="13.8"/><circle cx="1105.8" cy="313.2" r="13.8"/><circle cx="1117.1" cy="308.3" r="13.8"/><circle cx="1128.4" cy="303.8" r="13.8"/><circle cx="1139.8" cy="299.7" r="13.8"/><circle cx="1151.1" cy="296.1" r="13.8"/><circle cx="1162.5" cy="292.9" r="13.8"/><circle cx="1173.9" cy="289.7" r="13.8"/><circle cx="1185.2" cy="286.4" r="13.8"/><circle cx="1196.6" cy="282.9" r="13.8"/><circle cx="1207.9" cy="279.3" r="13.8"/><circle cx="1219.3" cy="275.9" r="13.8"/><circle cx="1230.7" cy="272.7" r="13.8"/><circle cx="1242.1" cy="269.7" r="13.8"/><circle cx="1253.4" cy="266.8" r="13.8"/><circle cx="1264.8" cy="264.0" r="13.8"/><circle cx="1276.2" cy="261.2" r="13.8"/><circle cx="1287.6" cy="258.3" r="13.8"/></g>
<g fill="url(#gr)"><circle cx="728.8" cy="392.8" r="13.8"/><circle cx="738.9" cy="381.7" r="13.8"/><circle cx="749.1" cy="375.3" r="13.8"/><circle cx="759.5" cy="371.6" r="13.8"/><circle cx="769.9" cy="369.0" r="13.8"/><circle cx="780.3" cy="366.8" r="13.8"/><circle cx="790.7" cy="364.8" r="13.8"/><circle cx="801.1" cy="363.0" r="13.8"/><circle cx="811.6" cy="361.1" r="13.8"/><circle cx="822.0" cy="359.3" r="13.8"/><circle cx="832.4" cy="357.4" r="13.8"/><circle cx="842.8" cy="355.4" r="13.8"/><circle cx="853.3" cy="353.4" r="13.8"/><circle cx="863.7" cy="351.2" r="13.8"/><circle cx="874.1" cy="348.8" r="13.8"/><circle cx="884.5" cy="346.1" r="13.8"/><circle cx="894.8" cy="343.3" r="13.8"/><circle cx="905.2" cy="340.3" r="13.8"/><circle cx="915.6" cy="337.4" r="13.8"/><circle cx="926.0" cy="334.4" r="13.8"/><circle cx="936.4" cy="331.5" r="13.8"/><circle cx="946.8" cy="328.6" r="13.8"/><circle cx="957.2" cy="325.9" r="13.8"/><circle cx="967.5" cy="323.3" r="13.8"/><circle cx="978.0" cy="320.9" r="13.8"/><circle cx="988.4" cy="318.6" r="13.8"/><circle cx="998.8" cy="316.5" r="13.8"/><circle cx="1009.2" cy="314.4" r="13.8"/><circle cx="1019.6" cy="312.4" r="13.8"/><circle cx="1030.0" cy="310.4" r="13.8"/><circle cx="1040.5" cy="308.4" r="13.8"/><circle cx="1050.9" cy="306.4" r="13.8"/><circle cx="1061.3" cy="304.3" r="13.8"/><circle cx="1071.7" cy="302.3" r="13.8"/><circle cx="1082.1" cy="300.2" r="13.8"/><circle cx="1092.5" cy="298.1" r="13.8"/><circle cx="1103.0" cy="296.0" r="13.8"/><circle cx="1113.4" cy="294.0" r="13.8"/><circle cx="1123.8" cy="291.9" r="13.8"/><circle cx="1134.2" cy="289.8" r="13.8"/><circle cx="1144.6" cy="287.8" r="13.8"/><circle cx="1155.0" cy="285.7" r="13.8"/><circle cx="1165.5" cy="283.6" r="13.8"/><circle cx="1175.9" cy="281.6" r="13.8"/><circle cx="1186.3" cy="279.5" r="13.8"/><circle cx="1196.7" cy="277.5" r="13.8"/><circle cx="1207.1" cy="275.4" r="13.8"/><circle cx="1217.6" cy="273.4" r="13.8"/><circle cx="1228.0" cy="271.5" r="13.8"/><circle cx="1238.4" cy="269.6" r="13.8"/><circle cx="1248.8" cy="267.8" r="13.8"/><circle cx="1259.3" cy="266.1" r="13.8"/><circle cx="1269.7" cy="264.5" r="13.8"/><circle cx="1280.1" cy="262.8" r="13.8"/><circle cx="1290.6" cy="261.5" r="13.8"/><circle cx="1294.0" cy="261.1" r="13.8"/></g>
<g fill="url(#gr)"><circle cx="677.0" cy="393.1" r="13.8"/><circle cx="684.7" cy="383.4" r="13.8"/><circle cx="694.9" cy="375.8" r="13.8"/><circle cx="705.2" cy="370.6" r="13.8"/><circle cx="715.5" cy="366.8" r="13.8"/><circle cx="725.9" cy="363.5" r="13.8"/><circle cx="736.3" cy="360.6" r="13.8"/><circle cx="746.7" cy="358.0" r="13.8"/><circle cx="757.1" cy="355.9" r="13.8"/><circle cx="767.5" cy="353.9" r="13.8"/><circle cx="777.9" cy="352.0" r="13.8"/><circle cx="788.4" cy="350.2" r="13.8"/><circle cx="798.8" cy="348.3" r="13.8"/><circle cx="809.2" cy="346.5" r="13.8"/><circle cx="819.6" cy="344.7" r="13.8"/><circle cx="830.1" cy="342.8" r="13.8"/><circle cx="840.5" cy="340.9" r="13.8"/><circle cx="850.9" cy="338.9" r="13.8"/><circle cx="861.3" cy="336.8" r="13.8"/><circle cx="871.7" cy="334.4" r="13.8"/><circle cx="882.1" cy="331.7" r="13.8"/><circle cx="892.5" cy="328.9" r="13.8"/><circle cx="902.9" cy="326.0" r="13.8"/><circle cx="913.3" cy="323.0" r="13.8"/><circle cx="923.7" cy="320.0" r="13.8"/><circle cx="934.0" cy="317.1" r="13.8"/><circle cx="944.4" cy="314.2" r="13.8"/><circle cx="954.8" cy="311.5" r="13.8"/><circle cx="965.2" cy="308.8" r="13.8"/><circle cx="975.6" cy="306.4" r="13.8"/><circle cx="986.0" cy="304.1" r="13.8"/><circle cx="996.4" cy="302.0" r="13.8"/><circle cx="1006.8" cy="299.9" r="13.8"/><circle cx="1017.3" cy="297.9" r="13.8"/><circle cx="1027.7" cy="295.9" r="13.8"/><circle cx="1038.1" cy="293.9" r="13.8"/><circle cx="1048.5" cy="291.9" r="13.8"/><circle cx="1058.9" cy="289.8" r="13.8"/><circle cx="1069.4" cy="287.7" r="13.8"/><circle cx="1079.8" cy="285.7" r="13.8"/><circle cx="1090.2" cy="283.6" r="13.8"/><circle cx="1100.6" cy="281.5" r="13.8"/><circle cx="1111.0" cy="279.4" r="13.8"/><circle cx="1121.4" cy="277.4" r="13.8"/><circle cx="1131.9" cy="275.3" r="13.8"/><circle cx="1142.3" cy="273.2" r="13.8"/><circle cx="1152.7" cy="271.2" r="13.8"/><circle cx="1163.1" cy="269.1" r="13.8"/><circle cx="1173.5" cy="267.0" r="13.8"/><circle cx="1184.0" cy="265.0" r="13.8"/><circle cx="1194.4" cy="262.9" r="13.8"/><circle cx="1204.8" cy="260.9" r="13.8"/><circle cx="1215.2" cy="258.9" r="13.8"/><circle cx="1225.6" cy="256.9" r="13.8"/><circle cx="1236.1" cy="255.0" r="13.8"/><circle cx="1246.5" cy="253.2" r="13.8"/><circle cx="1256.9" cy="251.5" r="13.8"/><circle cx="1267.3" cy="249.8" r="13.8"/><circle cx="1277.8" cy="248.2" r="13.8"/><circle cx="1288.2" cy="246.5" r="13.8"/></g>
<g fill="url(#gr)"><circle cx="677.0" cy="393.1" r="15"/><circle cx="726.0" cy="397.1" r="15"/><circle cx="666.0" cy="637.0" r="15"/><circle cx="726.0" cy="394.0" r="15"/><circle cx="714.0" cy="540.0" r="15"/><circle cx="707.5" cy="1127.0" r="15"/></g>
<path d="M846.0 495.1 L841.0 731.0 L834.0 889.0 L828.0 1135.0" fill="none" stroke="#009000" stroke-width="12.5" stroke-linejoin="round" stroke-linecap="round" />
<path d="M888.0 490.1 L886.0 731.0 L869.0 1100.0 L861.0 1172.0" fill="none" stroke="#009000" stroke-width="12.5" stroke-linejoin="round" stroke-linecap="round" />
<path d="M449.0 1362.0 L463.0 1357.7 L477.1 1353.5 L491.4 1349.2 L505.6 1344.9 L519.6 1340.6 L533.4 1336.4 L546.9 1332.2 L560.0 1328.0 L573.0 1323.8 L586.1 1319.6 L599.1 1315.4 L611.8 1311.2 L623.9 1307.1 L635.1 1303.2 L645.2 1299.5 L654.0 1296.0 L661.1 1292.8 L666.6 1289.9 L670.9 1287.1 L674.4 1284.5 L677.4 1282.1 L680.5 1279.7 L683.9 1277.3 L688.0 1275.0 L692.7 1272.8 L697.7 1270.7 L702.7 1268.8 L707.9 1267.0 L713.0 1265.1 L718.1 1263.1 L723.2 1261.0 L728.0 1258.6 L732.8 1256.0 L737.5 1253.4 L742.2 1250.6 L746.9 1247.7 L751.4 1244.7 L755.8 1241.6 L760.0 1238.4 L764.0 1235.0 L767.7 1231.5 L771.2 1227.9 L774.4 1224.2 L777.6 1220.4 L780.6 1216.5 L783.7 1212.4 L786.8 1208.3 L790.0 1204.0 L793.4 1199.6 L796.9 1194.9 L800.4 1190.2 L803.9 1185.3 L807.4 1180.4 L810.8 1175.5 L814.0 1170.7 L817.0 1166.0 L819.8 1161.4 L822.4 1156.8 L824.9 1152.3 L827.3 1147.8 L829.6 1143.3 L831.8 1138.9 L833.9 1134.4 L836.0 1130.0 L838.0 1125.6 L839.9 1121.2 L841.7 1116.8 L843.4 1112.4 L845.1 1108.1 L846.8 1103.7 L848.4 1099.4 L850.0 1095.0 L851.6 1090.6 L853.2 1086.1 L854.7 1081.7 L856.2 1077.2 L857.7 1072.8 L859.1 1068.4 L860.6 1064.1 L862.0 1060.0 L863.4 1056.1 L864.9 1052.5 L866.3 1049.0 L867.7 1045.5 L869.1 1042.0 L870.4 1038.3 L871.7 1034.3 L873.0 1030.0 L874.2 1025.2 L875.4 1020.0 L876.6 1014.6 L877.7 1009.0 L878.8 1003.3 L879.9 997.7 L880.9 992.2 L882.0 987.0 L883.0 982.1 L883.9 977.5 L884.7 973.1 L885.5 968.8 L886.4 964.3 L887.4 959.6 L888.6 954.5 L890.0 949.0 L891.7 942.9 L893.7 936.2 L895.9 929.2 L898.2 921.9 L900.5 914.6 L902.8 907.4 L905.0 900.5 L907.0 894.0 L908.8 887.9 L910.6 882.2 L912.3 876.7 L914.0 871.2 L915.6 865.9 L917.1 860.4 L918.6 854.8 L920.0 849.0 L921.3 843.0 L922.5 837.0 L923.5 830.8 L924.6 824.6 L925.6 818.3 L926.6 811.7 L927.8 805.0 L929.0 798.0 L930.3 790.7 L931.5 783.0 L932.7 775.1 L934.0 767.0 L935.4 758.9 L937.0 750.8 L938.9 742.8 L941.0 735.0 L943.5 727.6 L946.2 720.4 L949.2 713.4 L952.3 706.4 L955.6 699.3 L959.0 692.0 L962.5 684.3 L966.0 676.0 L969.7 667.0 L973.8 657.2 L978.0 646.9 L982.2 636.4 L986.4 626.0 L990.4 616.0 L993.9 606.5 L997.0 598.0 L999.4 590.3 L1001.4 583.2 L1002.9 576.7 L1004.2 570.5 L1005.5 564.6 L1006.8 559.0 L1008.2 553.5 L1010.0 548.0 L1012.0 542.6 L1014.2 537.4 L1016.4 532.4 L1018.7 527.6 L1021.1 522.9 L1023.6 518.4 L1026.2 514.1 L1029.0 510.0 L1031.9 506.1 L1034.9 502.4 L1038.1 498.9 L1041.4 495.6 L1044.7 492.4 L1048.1 489.3 L1051.6 486.2 L1055.0 483.0 L1058.5 479.8 L1062.1 476.6 L1065.7 473.5 L1069.4 470.4 L1073.1 467.4 L1076.8 464.5 L1080.4 461.7 L1084.0 459.0 L1087.5 456.5 L1090.7 454.1 L1094.0 451.8 L1097.2 449.6 L1100.5 447.5 L1104.0 445.4 L1107.8 443.2 L1112.0 441.0 L1116.5 438.8 L1121.2 436.5 L1126.2 434.2 L1131.4 432.0 L1136.8 429.8 L1142.3 427.5 L1148.1 425.2 L1154.0 423.0 L1160.1 420.8 L1166.2 418.7 L1172.6 416.6 L1179.1 414.4 L1185.9 412.3 L1193.0 410.0 L1200.3 407.6 L1208.0 405.0 L1216.2 402.2 L1224.8 399.1 L1233.8 395.9 L1243.0 392.6 L1252.4 389.3 L1261.7 386.1 L1271.0 382.9 L1280.0 380.0 L1288.8 377.2 L1297.5 374.6 L1306.2 372.0 L1314.8 369.6 L1323.5 367.1 L1332.2 364.7 L1341.0 362.4 L1350.0 360.0 L1359.1 357.7 L1368.4 355.4 L1377.8 353.1 L1387.2 350.9 L1396.7 348.7 L1406.1 346.5 L1415.6 344.2 L1425.0 342.0" fill="none" stroke="#006000" stroke-width="30" stroke-linejoin="round" stroke-linecap="butt" />
<path d="M846.0 495.1 L848.4 491.8 L850.8 486.4 L853.2 481.3 L856.0 477.1 L859.2 474.3 L862.6 472.4 L866.3 470.8 L870.0 468.6 L873.6 465.5 L877.1 461.9 L881.1 458.2 L886.0 455.1 L892.0 453.7 L898.9 453.6 L906.3 453.9 L914.0 454.1 L922.3 452.7 L931.2 451.7 L940.1 450.6 L948.0 449.1 L953.9 447.1 L958.5 444.9 L963.8 442.2 L972.0 439.1 L984.9 435.1 L1000.9 430.4 L1017.0 425.8 L1030.0 422.1 L1037.1 419.9 L1040.6 418.7 L1045.1 417.4 L1055.0 415.1 L1072.6 411.3 L1095.1 406.5 L1119.6 401.5 L1143.0 396.6 L1165.7 391.9 L1188.9 387.3 L1210.9 382.7 L1230.0 378.6 L1244.7 375.1 L1256.2 372.0 L1267.2 369.0 L1280.0 365.6 L1295.3 361.5 L1311.8 357.0 L1329.1 352.6 L1347.0 348.6 L1365.7 345.2 L1385.3 342.3 L1405.2 339.5 L1425.0 336.6" fill="none" stroke="#006000" stroke-width="18" stroke-linejoin="round" stroke-linecap="round" />
<path d="M898.9 453.6 L906.3 453.9 L914.0 454.1 L922.3 452.7 L931.2 451.7 L940.1 450.6 L948.0 449.1 L953.9 447.1 L958.5 444.9 L963.8 442.2 L972.0 439.1 L984.9 435.1 L1000.9 430.4 L1017.0 425.8 L1030.0 422.1 L1037.1 419.9 L1040.6 418.7 L1045.1 417.4 L1055.0 415.1 L1072.6 411.3 L1095.1 406.5 L1119.6 401.5 L1143.0 396.6 L1165.7 391.9 L1188.9 387.3 L1210.9 382.7 L1230.0 378.6 L1244.7 375.1 L1256.2 372.0 L1267.2 369.0 L1280.0 365.6 L1295.3 361.5 L1311.8 357.0 L1329.1 352.6 L1347.0 348.6 L1365.7 345.2 L1385.3 342.3 L1405.2 339.5 L1425.0 336.6" fill="none" stroke="#006000" stroke-width="32" stroke-linejoin="round" stroke-linecap="butt" />
<path d="M449.0 1365.0 L477.1 1358.3 L505.6 1351.6 L533.4 1344.8 L560.0 1338.0 L584.7 1331.0 L608.1 1324.0 L631.0 1317.0 L654.0 1310.0 L678.7 1302.9 L704.3 1295.7 L728.0 1288.8 L747.0 1283.0 L759.6 1278.4 L767.6 1274.8 L773.5 1271.7 L780.0 1268.5 L787.4 1265.4 L794.4 1262.5 L801.2 1259.5 L808.0 1256.0 L815.1 1252.0 L822.4 1247.7 L829.3 1243.0 L835.0 1238.0 L839.3 1232.6 L842.6 1226.9 L845.4 1221.0 L848.0 1215.0 L850.7 1208.7 L853.1 1202.1 L855.3 1195.7 L857.0 1190.0 L858.2 1185.2 L858.9 1181.0 L859.4 1177.1 L860.0 1173.0" fill="none" stroke="#006000" stroke-width="18" stroke-linejoin="round" stroke-linecap="round" />
<path d="M449.0 1362.0 L463.0 1357.7 L477.1 1353.5 L491.4 1349.2 L505.6 1344.9 L519.6 1340.6 L533.4 1336.4 L546.9 1332.2 L560.0 1328.0 L573.0 1323.8 L586.1 1319.6 L599.1 1315.4 L611.8 1311.2 L623.9 1307.1 L635.1 1303.2 L645.2 1299.5 L654.0 1296.0 L661.1 1292.8 L666.6 1289.9 L670.9 1287.1 L674.4 1284.5 L677.4 1282.1 L680.5 1279.7 L683.9 1277.3 L688.0 1275.0 L692.7 1272.8 L697.7 1270.7 L702.7 1268.8 L707.9 1267.0 L713.0 1265.1 L718.1 1263.1 L723.2 1261.0 L728.0 1258.6 L732.8 1256.0 L737.5 1253.4 L742.2 1250.6 L746.9 1247.7 L751.4 1244.7 L755.8 1241.6 L760.0 1238.4 L764.0 1235.0 L767.7 1231.5 L771.2 1227.9 L774.4 1224.2 L777.6 1220.4 L780.6 1216.5 L783.7 1212.4 L786.8 1208.3 L790.0 1204.0 L793.4 1199.6 L796.9 1194.9 L800.4 1190.2 L803.9 1185.3 L807.4 1180.4 L810.8 1175.5 L814.0 1170.7 L817.0 1166.0 L819.8 1161.4 L822.4 1156.8 L824.9 1152.3 L827.3 1147.8 L829.6 1143.3 L831.8 1138.9 L833.9 1134.4 L836.0 1130.0 L838.0 1125.6 L839.9 1121.2 L841.7 1116.8 L843.4 1112.4 L845.1 1108.1 L846.8 1103.7 L848.4 1099.4 L850.0 1095.0 L851.6 1090.6 L853.2 1086.1 L854.7 1081.7 L856.2 1077.2 L857.7 1072.8 L857.0 1190.0 L855.3 1195.7 L853.1 1202.1 L850.7 1208.7 L848.0 1215.0 L845.4 1221.0 L842.6 1226.9 L839.3 1232.6 L835.0 1238.0 L829.3 1243.0 L822.4 1247.7 L815.1 1252.0 L808.0 1256.0 L801.2 1259.5 L794.4 1262.5 L787.4 1265.4 L780.0 1268.5 L773.5 1271.7 L767.6 1274.8 L759.6 1278.4 L747.0 1283.0 L728.0 1288.8 L704.3 1295.7 L678.7 1302.9 L654.0 1310.0 L631.0 1317.0 L608.1 1324.0 L584.7 1331.0 L560.0 1338.0 L533.4 1344.8 L505.6 1351.6 L477.1 1358.3 L449.0 1365.0Z" fill="#006000"/>
<g fill="url(#gg)"><circle cx="449.0" cy="1365.0" r="13.8"/><circle cx="459.4" cy="1362.5" r="13.8"/><circle cx="469.8" cy="1360.0" r="13.8"/><circle cx="480.2" cy="1357.6" r="13.8"/><circle cx="490.6" cy="1355.1" r="13.8"/><circle cx="501.0" cy="1352.6" r="13.8"/><circle cx="511.4" cy="1350.1" r="13.8"/><circle cx="521.8" cy="1347.6" r="13.8"/><circle cx="532.2" cy="1345.1" r="13.8"/><circle cx="542.6" cy="1342.5" r="13.8"/><circle cx="553.0" cy="1339.8" r="13.8"/><circle cx="563.4" cy="1337.0" r="13.8"/><circle cx="573.8" cy="1334.1" r="13.8"/><circle cx="584.1" cy="1331.2" r="13.8"/><circle cx="594.5" cy="1328.1" r="13.8"/><circle cx="604.9" cy="1325.0" r="13.8"/><circle cx="615.3" cy="1321.8" r="13.8"/><circle cx="625.6" cy="1318.6" r="13.8"/><circle cx="636.0" cy="1315.4" r="13.8"/><circle cx="646.4" cy="1312.3" r="13.8"/><circle cx="656.8" cy="1309.2" r="13.8"/><circle cx="667.1" cy="1306.2" r="13.8"/><circle cx="677.5" cy="1303.2" r="13.8"/><circle cx="687.9" cy="1300.3" r="13.8"/><circle cx="698.3" cy="1297.4" r="13.8"/><circle cx="708.7" cy="1294.4" r="13.8"/><circle cx="719.1" cy="1291.4" r="13.8"/><circle cx="729.4" cy="1288.4" r="13.8"/><circle cx="739.8" cy="1285.2" r="13.8"/><circle cx="750.2" cy="1281.9" r="13.8"/><circle cx="760.5" cy="1278.0" r="13.8"/><circle cx="770.8" cy="1273.1" r="13.8"/><circle cx="781.1" cy="1268.0" r="13.8"/><circle cx="791.4" cy="1263.7" r="13.8"/><circle cx="801.8" cy="1259.2" r="13.8"/><circle cx="812.0" cy="1253.7" r="13.8"/><circle cx="822.3" cy="1247.7" r="13.8"/><circle cx="832.5" cy="1240.2" r="13.8"/><circle cx="842.5" cy="1227.2" r="13.8"/><circle cx="852.1" cy="1204.9" r="13.8"/><circle cx="860.0" cy="1173.0" r="13.8"/></g>
<g fill="url(#gg)"><circle cx="455.4" cy="1363.4" r="13.8"/><circle cx="466.7" cy="1360.2" r="13.8"/><circle cx="478.1" cy="1356.9" r="13.8"/><circle cx="489.5" cy="1353.6" r="13.8"/><circle cx="500.8" cy="1350.4" r="13.8"/><circle cx="512.2" cy="1347.1" r="13.8"/><circle cx="523.6" cy="1343.8" r="13.8"/><circle cx="534.9" cy="1340.5" r="13.8"/><circle cx="546.3" cy="1337.1" r="13.8"/><circle cx="557.7" cy="1333.7" r="13.8"/><circle cx="569.0" cy="1330.3" r="13.8"/><circle cx="580.4" cy="1326.8" r="13.8"/><circle cx="591.8" cy="1323.3" r="13.8"/><circle cx="603.1" cy="1319.8" r="13.8"/><circle cx="614.5" cy="1316.3" r="13.8"/><circle cx="625.8" cy="1312.6" r="13.8"/><circle cx="637.2" cy="1308.9" r="13.8"/><circle cx="648.5" cy="1304.9" r="13.8"/><circle cx="659.8" cy="1300.6" r="13.8"/><circle cx="671.1" cy="1295.2" r="13.8"/><circle cx="682.3" cy="1287.1" r="13.8"/><circle cx="693.5" cy="1280.1" r="13.8"/><circle cx="704.8" cy="1275.5" r="13.8"/><circle cx="716.2" cy="1271.4" r="13.8"/><circle cx="727.5" cy="1266.6" r="13.8"/><circle cx="738.7" cy="1260.7" r="13.8"/><circle cx="750.0" cy="1254.0" r="13.8"/><circle cx="761.2" cy="1246.3" r="13.8"/><circle cx="772.3" cy="1236.8" r="13.8"/><circle cx="783.3" cy="1224.4" r="13.8"/><circle cx="794.2" cy="1210.0" r="13.8"/><circle cx="805.1" cy="1195.5" r="13.8"/><circle cx="816.0" cy="1180.3" r="13.8"/><circle cx="826.8" cy="1163.2" r="13.8"/><circle cx="837.5" cy="1143.0" r="13.8"/><circle cx="848.1" cy="1119.6" r="13.8"/><circle cx="858.5" cy="1092.1" r="13.8"/><circle cx="868.8" cy="1061.8" r="13.8"/><circle cx="879.2" cy="1033.8" r="13.8"/><circle cx="888.9" cy="988.4" r="13.8"/><circle cx="898.6" cy="944.3" r="13.8"/><circle cx="908.8" cy="911.8" r="13.8"/><circle cx="919.0" cy="878.9" r="13.8"/><circle cx="928.9" cy="840.4" r="13.8"/><circle cx="938.2" cy="785.2" r="13.8"/><circle cx="947.8" cy="736.8" r="13.8"/><circle cx="958.2" cy="710.3" r="13.8"/><circle cx="968.8" cy="687.3" r="13.8"/><circle cx="979.3" cy="662.1" r="13.8"/><circle cx="989.8" cy="636.5" r="13.8"/><circle cx="1000.2" cy="609.8" r="13.8"/><circle cx="1010.3" cy="575.5" r="13.8"/><circle cx="1020.4" cy="540.5" r="13.8"/><circle cx="1031.1" cy="519.6" r="13.8"/><circle cx="1042.0" cy="505.0" r="13.8"/><circle cx="1053.1" cy="494.2" r="13.8"/><circle cx="1064.2" cy="484.1" r="13.8"/><circle cx="1075.3" cy="474.6" r="13.8"/><circle cx="1086.5" cy="465.9" r="13.8"/><circle cx="1097.6" cy="457.8" r="13.8"/><circle cx="1108.8" cy="450.7" r="13.8"/><circle cx="1120.1" cy="444.8" r="13.8"/><circle cx="1131.4" cy="439.6" r="13.8"/><circle cx="1142.7" cy="434.9" r="13.8"/><circle cx="1154.0" cy="430.5" r="13.8"/><circle cx="1165.4" cy="426.4" r="13.8"/><circle cx="1176.7" cy="422.6" r="13.8"/><circle cx="1188.1" cy="418.9" r="13.8"/><circle cx="1199.4" cy="415.2" r="13.8"/><circle cx="1210.8" cy="411.4" r="13.8"/><circle cx="1222.1" cy="407.4" r="13.8"/><circle cx="1233.4" cy="403.1" r="13.8"/><circle cx="1244.8" cy="398.8" r="13.8"/><circle cx="1256.1" cy="394.5" r="13.8"/><circle cx="1267.4" cy="390.4" r="13.8"/><circle cx="1278.8" cy="386.3" r="13.8"/><circle cx="1290.1" cy="382.5" r="13.8"/><circle cx="1301.5" cy="378.8" r="13.8"/><circle cx="1312.8" cy="375.2" r="13.8"/><circle cx="1324.2" cy="371.7" r="13.8"/><circle cx="1335.6" cy="368.4" r="13.8"/><circle cx="1346.9" cy="365.1" r="13.8"/><circle cx="1358.3" cy="361.9" r="13.8"/><circle cx="1369.7" cy="358.8" r="13.8"/><circle cx="1381.0" cy="355.8" r="13.8"/><circle cx="1392.4" cy="352.9" r="13.8"/><circle cx="1403.8" cy="350.0" r="13.8"/><circle cx="1415.2" cy="347.1" r="13.8"/><circle cx="1425.6" cy="344.4" r="13.8"/></g>
<g fill="url(#gg)"><circle cx="448.1" cy="1359.0" r="13.8"/><circle cx="459.4" cy="1355.3" r="13.8"/><circle cx="470.8" cy="1351.7" r="13.8"/><circle cx="482.1" cy="1348.1" r="13.8"/><circle cx="493.5" cy="1344.5" r="13.8"/><circle cx="504.9" cy="1340.9" r="13.8"/><circle cx="516.2" cy="1337.3" r="13.8"/><circle cx="527.6" cy="1333.6" r="13.8"/><circle cx="538.9" cy="1329.9" r="13.8"/><circle cx="550.3" cy="1326.2" r="13.8"/><circle cx="561.6" cy="1322.4" r="13.8"/><circle cx="573.0" cy="1318.5" r="13.8"/><circle cx="584.3" cy="1314.7" r="13.8"/><circle cx="595.7" cy="1310.8" r="13.8"/><circle cx="607.0" cy="1306.9" r="13.8"/><circle cx="618.3" cy="1302.9" r="13.8"/><circle cx="629.7" cy="1298.7" r="13.8"/><circle cx="641.0" cy="1294.4" r="13.8"/><circle cx="652.3" cy="1289.6" r="13.8"/><circle cx="663.6" cy="1283.6" r="13.8"/><circle cx="674.7" cy="1275.3" r="13.8"/><circle cx="686.0" cy="1268.2" r="13.8"/><circle cx="697.3" cy="1263.4" r="13.8"/><circle cx="708.6" cy="1259.2" r="13.8"/><circle cx="719.9" cy="1254.7" r="13.8"/><circle cx="731.2" cy="1248.9" r="13.8"/><circle cx="742.4" cy="1242.2" r="13.8"/><circle cx="753.6" cy="1234.5" r="13.8"/><circle cx="764.7" cy="1224.6" r="13.8"/><circle cx="775.7" cy="1211.4" r="13.8"/><circle cx="786.6" cy="1196.9" r="13.8"/><circle cx="797.5" cy="1182.2" r="13.8"/><circle cx="808.4" cy="1166.5" r="13.8"/><circle cx="819.2" cy="1148.3" r="13.8"/><circle cx="829.8" cy="1126.7" r="13.8"/><circle cx="840.3" cy="1101.1" r="13.8"/><circle cx="850.6" cy="1071.8" r="13.8"/><circle cx="861.0" cy="1043.5" r="13.8"/><circle cx="871.0" cy="1006.8" r="13.8"/><circle cx="880.5" cy="958.1" r="13.8"/><circle cx="890.6" cy="922.6" r="13.8"/><circle cx="900.8" cy="890.2" r="13.8"/><circle cx="911.0" cy="856.3" r="13.8"/><circle cx="920.5" cy="806.2" r="13.8"/><circle cx="929.8" cy="751.3" r="13.8"/><circle cx="939.9" cy="717.3" r="13.8"/><circle cx="950.5" cy="693.8" r="13.8"/><circle cx="961.0" cy="669.7" r="13.8"/><circle cx="971.5" cy="644.3" r="13.8"/><circle cx="982.0" cy="618.3" r="13.8"/><circle cx="992.3" cy="589.7" r="13.8"/><circle cx="1002.2" cy="549.4" r="13.8"/><circle cx="1012.7" cy="523.9" r="13.8"/><circle cx="1023.5" cy="505.7" r="13.8"/><circle cx="1034.4" cy="492.7" r="13.8"/><circle cx="1045.5" cy="482.2" r="13.8"/><circle cx="1056.6" cy="472.1" r="13.8"/><circle cx="1067.7" cy="462.7" r="13.8"/><circle cx="1078.9" cy="454.1" r="13.8"/><circle cx="1090.1" cy="446.0" r="13.8"/><circle cx="1101.3" cy="438.9" r="13.8"/><circle cx="1112.5" cy="432.9" r="13.8"/><circle cx="1123.8" cy="427.6" r="13.8"/><circle cx="1135.1" cy="422.9" r="13.8"/><circle cx="1146.5" cy="418.4" r="13.8"/><circle cx="1157.8" cy="414.2" r="13.8"/><circle cx="1169.1" cy="410.3" r="13.8"/><circle cx="1180.5" cy="406.6" r="13.8"/><circle cx="1191.8" cy="403.0" r="13.8"/><circle cx="1203.2" cy="399.2" r="13.8"/><circle cx="1214.5" cy="395.4" r="13.8"/><circle cx="1225.9" cy="391.6" r="13.8"/><circle cx="1237.2" cy="387.8" r="13.8"/><circle cx="1248.6" cy="384.1" r="13.8"/><circle cx="1259.9" cy="380.4" r="13.8"/><circle cx="1271.3" cy="376.8" r="13.8"/><circle cx="1282.7" cy="373.4" r="13.8"/><circle cx="1294.0" cy="370.2" r="13.8"/><circle cx="1305.4" cy="367.1" r="13.8"/><circle cx="1316.8" cy="364.1" r="13.8"/><circle cx="1328.2" cy="361.2" r="13.8"/><circle cx="1339.6" cy="358.4" r="13.8"/><circle cx="1350.9" cy="355.7" r="13.8"/><circle cx="1362.3" cy="353.0" r="13.8"/><circle cx="1373.7" cy="350.5" r="13.8"/><circle cx="1385.1" cy="348.0" r="13.8"/><circle cx="1396.5" cy="345.6" r="13.8"/><circle cx="1407.9" cy="343.2" r="13.8"/><circle cx="1419.4" cy="340.7" r="13.8"/><circle cx="1424.4" cy="339.6" r="13.8"/></g>
<g fill="url(#gg)"><circle cx="890.8" cy="485.1" r="13.8"/><circle cx="900.8" cy="472.5" r="13.8"/><circle cx="911.0" cy="465.5" r="13.8"/><circle cx="921.4" cy="461.7" r="13.8"/><circle cx="931.8" cy="459.7" r="13.8"/><circle cx="942.2" cy="457.9" r="13.8"/><circle cx="952.6" cy="454.9" r="13.8"/><circle cx="962.9" cy="450.4" r="13.8"/><circle cx="973.3" cy="446.3" r="13.8"/><circle cx="983.6" cy="443.0" r="13.8"/><circle cx="994.0" cy="439.9" r="13.8"/><circle cx="1004.4" cy="436.9" r="13.8"/><circle cx="1014.8" cy="434.0" r="13.8"/><circle cx="1025.1" cy="431.0" r="13.8"/><circle cx="1035.5" cy="427.9" r="13.8"/><circle cx="1045.9" cy="424.8" r="13.8"/><circle cx="1056.3" cy="422.3" r="13.8"/><circle cx="1066.7" cy="420.1" r="13.8"/><circle cx="1077.1" cy="417.8" r="13.8"/><circle cx="1087.5" cy="415.6" r="13.8"/><circle cx="1097.9" cy="413.5" r="13.8"/><circle cx="1108.3" cy="411.3" r="13.8"/><circle cx="1118.8" cy="409.1" r="13.8"/><circle cx="1129.2" cy="407.0" r="13.8"/><circle cx="1139.6" cy="404.8" r="13.8"/><circle cx="1150.0" cy="402.7" r="13.8"/><circle cx="1160.4" cy="400.5" r="13.8"/><circle cx="1170.8" cy="398.4" r="13.8"/><circle cx="1181.2" cy="396.3" r="13.8"/><circle cx="1191.7" cy="394.2" r="13.8"/><circle cx="1202.1" cy="392.0" r="13.8"/><circle cx="1212.5" cy="389.9" r="13.8"/><circle cx="1222.9" cy="387.6" r="13.8"/><circle cx="1233.3" cy="385.3" r="13.8"/><circle cx="1243.7" cy="382.8" r="13.8"/><circle cx="1254.1" cy="380.1" r="13.8"/><circle cx="1264.5" cy="377.3" r="13.8"/><circle cx="1274.9" cy="374.5" r="13.8"/><circle cx="1285.3" cy="371.7" r="13.8"/><circle cx="1295.7" cy="368.9" r="13.8"/><circle cx="1306.0" cy="366.1" r="13.8"/><circle cx="1316.4" cy="363.3" r="13.8"/><circle cx="1326.8" cy="360.7" r="13.8"/><circle cx="1337.2" cy="358.3" r="13.8"/><circle cx="1347.6" cy="356.0" r="13.8"/><circle cx="1358.1" cy="354.1" r="13.8"/><circle cx="1368.5" cy="352.3" r="13.8"/><circle cx="1378.9" cy="350.8" r="13.8"/><circle cx="1389.4" cy="349.2" r="13.8"/><circle cx="1399.8" cy="347.7" r="13.8"/><circle cx="1410.2" cy="346.3" r="13.8"/><circle cx="1420.7" cy="344.8" r="13.8"/><circle cx="1428.0" cy="344.1" r="13.8"/></g>
<g fill="url(#gg)"><circle cx="846.0" cy="495.1" r="13.8"/><circle cx="855.8" cy="477.4" r="13.8"/><circle cx="866.0" cy="470.9" r="13.8"/><circle cx="876.2" cy="462.8" r="13.8"/><circle cx="886.4" cy="454.9" r="13.8"/><circle cx="896.7" cy="451.0" r="13.8"/><circle cx="907.1" cy="448.2" r="13.8"/><circle cx="917.5" cy="446.0" r="13.8"/><circle cx="928.0" cy="444.6" r="13.8"/><circle cx="938.4" cy="443.3" r="13.8"/><circle cx="948.9" cy="441.3" r="13.8"/><circle cx="959.2" cy="437.0" r="13.8"/><circle cx="969.5" cy="432.6" r="13.8"/><circle cx="979.9" cy="429.2" r="13.8"/><circle cx="990.2" cy="426.0" r="13.8"/><circle cx="1000.6" cy="423.0" r="13.8"/><circle cx="1011.0" cy="420.0" r="13.8"/><circle cx="1021.4" cy="417.1" r="13.8"/><circle cx="1031.8" cy="414.1" r="13.8"/><circle cx="1042.1" cy="410.8" r="13.8"/><circle cx="1052.5" cy="408.2" r="13.8"/><circle cx="1062.9" cy="405.9" r="13.8"/><circle cx="1073.3" cy="403.6" r="13.8"/><circle cx="1083.8" cy="401.4" r="13.8"/><circle cx="1094.2" cy="399.2" r="13.8"/><circle cx="1104.6" cy="397.1" r="13.8"/><circle cx="1115.0" cy="394.9" r="13.8"/><circle cx="1125.4" cy="392.8" r="13.8"/><circle cx="1135.8" cy="390.6" r="13.8"/><circle cx="1146.2" cy="388.4" r="13.8"/><circle cx="1156.6" cy="386.3" r="13.8"/><circle cx="1167.1" cy="384.2" r="13.8"/><circle cx="1177.5" cy="382.1" r="13.8"/><circle cx="1187.9" cy="380.0" r="13.8"/><circle cx="1198.3" cy="377.8" r="13.8"/><circle cx="1208.7" cy="375.7" r="13.8"/><circle cx="1219.1" cy="373.4" r="13.8"/><circle cx="1229.5" cy="371.2" r="13.8"/><circle cx="1239.9" cy="368.7" r="13.8"/><circle cx="1250.3" cy="366.1" r="13.8"/><circle cx="1260.7" cy="363.3" r="13.8"/><circle cx="1271.1" cy="360.5" r="13.8"/><circle cx="1281.5" cy="357.7" r="13.8"/><circle cx="1291.9" cy="354.9" r="13.8"/><circle cx="1302.3" cy="352.1" r="13.8"/><circle cx="1312.7" cy="349.3" r="13.8"/><circle cx="1323.1" cy="346.6" r="13.8"/><circle cx="1333.5" cy="344.1" r="13.8"/><circle cx="1343.9" cy="341.8" r="13.8"/><circle cx="1354.3" cy="339.8" r="13.8"/><circle cx="1364.7" cy="337.9" r="13.8"/><circle cx="1375.2" cy="336.3" r="13.8"/><circle cx="1385.6" cy="334.7" r="13.8"/><circle cx="1396.0" cy="333.3" r="13.8"/><circle cx="1406.5" cy="331.8" r="13.8"/><circle cx="1416.9" cy="330.3" r="13.8"/><circle cx="1425.0" cy="329.1" r="13.8"/></g>
<g fill="url(#gg)"><circle cx="846.0" cy="495.1" r="15"/><circle cx="888.0" cy="490.1" r="15"/><circle cx="834.0" cy="889.0" r="15"/><circle cx="888.0" cy="487.0" r="15"/><circle cx="869.0" cy="1100.0" r="15"/></g>
<path d="M969.0 570.1 L958.5 734.0 L958.5 851.0 L948.0 1170.0 L946.0 1275.0" fill="none" stroke="#0000ff" stroke-width="12.5" stroke-linejoin="round" stroke-linecap="round" />
<path d="M1035.5 560.1 L1019.0 759.0 L1019.0 851.0 L1013.0 1071.0 L998.0 1200.0 L997.0 1286.0" fill="none" stroke="#0000ff" stroke-width="12.5" stroke-linejoin="round" stroke-linecap="round" />
<path d="M562.0 1455.0 L572.8 1451.0 L583.3 1447.1 L593.6 1443.2 L604.1 1439.2 L614.7 1435.3 L625.8 1431.3 L637.5 1427.2 L650.0 1423.0 L663.8 1418.6 L678.9 1413.9 L694.9 1409.1 L711.2 1404.3 L727.3 1399.6 L742.6 1395.0 L756.7 1390.8 L769.0 1387.0 L779.4 1383.7 L788.5 1380.9 L796.4 1378.3 L803.5 1376.0 L810.1 1373.7 L816.5 1371.4 L823.0 1368.9 L830.0 1366.0 L837.3 1362.9 L844.5 1359.7 L851.7 1356.4 L858.8 1353.0 L865.8 1349.5 L872.6 1345.8 L879.2 1342.0 L885.5 1338.0 L891.7 1333.7 L897.7 1329.0 L903.7 1324.1 L909.4 1319.1 L914.9 1314.2 L920.0 1309.4 L924.7 1305.0 L929.0 1301.0 L932.7 1297.5 L935.9 1294.5 L938.7 1291.7 L941.1 1289.2 L943.3 1286.7 L945.5 1284.3 L947.7 1281.7 L950.0 1279.0 L952.4 1276.1 L954.8 1273.0 L957.2 1270.0 L959.5 1266.9 L961.7 1263.8 L963.9 1260.8 L966.0 1257.8 L968.0 1255.0 L969.8 1252.5 L971.5 1250.4 L973.1 1248.4 L974.6 1246.5 L976.1 1244.4 L977.6 1241.9 L979.2 1238.8 L981.0 1235.0 L983.0 1230.4 L985.1 1225.1 L987.3 1219.3 L989.6 1213.1 L991.8 1206.6 L994.0 1200.0 L996.1 1193.4 L998.0 1187.0 L999.8 1180.4 L1001.5 1173.4 L1003.2 1166.1 L1004.8 1158.9 L1006.2 1151.8 L1007.6 1145.2 L1008.9 1139.2 L1010.0 1134.0 L1010.9 1129.9 L1011.5 1126.8 L1011.9 1124.3 L1012.3 1122.2 L1012.7 1120.3 L1013.2 1118.1 L1013.9 1115.4 L1015.0 1112.0 L1016.4 1107.8 L1018.2 1103.1 L1020.1 1098.0 L1022.2 1092.7 L1024.3 1087.2 L1026.4 1081.7 L1028.3 1076.3 L1030.0 1071.0 L1031.5 1065.9 L1032.9 1060.8 L1034.1 1055.8 L1035.3 1050.7 L1036.5 1045.6 L1037.6 1040.5 L1038.8 1035.3 L1040.0 1030.0 L1041.3 1024.6 L1042.6 1019.1 L1043.9 1013.6 L1045.2 1008.0 L1046.5 1002.4 L1047.7 996.9 L1048.9 991.4 L1050.0 986.0 L1051.0 980.8 L1051.9 975.7 L1052.7 970.7 L1053.4 965.8 L1054.2 960.8 L1055.0 955.7 L1056.0 950.4 L1057.0 945.0 L1058.2 939.3 L1059.5 933.4 L1061.0 927.4 L1062.4 921.3 L1063.9 915.2 L1065.4 909.0 L1066.7 903.0 L1068.0 897.0 L1069.1 891.1 L1070.1 885.2 L1071.1 879.3 L1072.0 873.4 L1072.9 867.6 L1073.9 862.0 L1074.9 856.4 L1076.0 851.0 L1077.2 845.9 L1078.5 841.2 L1079.8 836.7 L1081.1 832.2 L1082.5 827.7 L1083.9 822.9 L1085.4 817.7 L1087.0 812.0 L1088.6 805.7 L1090.3 798.9 L1092.0 791.7 L1093.8 784.2 L1095.7 776.7 L1097.6 769.0 L1099.5 761.4 L1101.5 754.0 L1103.5 746.7 L1105.5 739.3 L1107.5 731.9 L1109.6 724.5 L1111.8 717.1 L1114.0 709.7 L1116.4 702.3 L1119.0 695.0 L1121.7 687.7 L1124.6 680.4 L1127.6 673.1 L1130.7 665.9 L1133.9 658.6 L1137.2 651.4 L1140.6 644.2 L1144.0 637.0 L1147.6 629.6 L1151.4 621.8 L1155.3 613.9 L1159.2 606.1 L1163.2 598.5 L1167.0 591.6 L1170.6 585.3 L1174.0 580.0 L1177.0 575.8 L1179.7 572.6 L1182.3 570.1 L1184.7 568.2 L1187.1 566.5 L1189.5 564.9 L1192.1 563.2 L1195.0 561.0 L1198.0 558.6 L1201.1 556.1 L1204.2 553.7 L1207.5 551.2 L1210.9 548.7 L1214.4 546.2 L1218.1 543.6 L1222.0 541.0 L1226.1 538.3 L1230.3 535.5 L1234.7 532.7 L1239.2 529.8 L1243.9 527.0 L1248.7 524.2 L1253.8 521.5 L1259.0 519.0 L1264.4 516.7 L1269.9 514.8 L1275.6 512.9 L1281.4 511.1 L1287.5 509.3 L1293.8 507.2 L1300.3 504.8 L1307.0 502.0 L1313.9 498.7 L1320.9 494.9 L1328.0 490.7 L1335.4 486.4 L1343.1 482.1 L1351.2 477.8 L1359.8 473.7 L1369.0 470.0 L1378.8 466.6 L1389.3 463.2 L1400.3 460.1 L1411.6 457.0 L1423.3 454.1 L1435.1 451.2 L1447.1 448.6 L1459.0 446.0 L1471.0 443.6 L1483.3 441.4 L1495.8 439.4 L1508.4 437.5 L1521.1 435.6 L1533.8 433.8 L1546.4 431.9 L1559.0 430.0" fill="none" stroke="#0000a8" stroke-width="30" stroke-linejoin="round" stroke-linecap="butt" />
<path d="M969.0 570.1 L980.2 567.0 L990.3 560.7 L1000.5 554.7 L1011.0 549.1 L1020.8 544.3 L1030.1 540.1 L1040.8 537.5 L1055.0 537.0 L1073.9 532.9 L1096.3 526.7 L1120.0 520.4 L1143.0 514.6 L1165.7 509.2 L1188.9 504.1 L1210.9 499.4 L1230.0 495.1 L1244.2 491.8 L1254.9 489.1 L1265.6 486.4 L1280.0 482.6 L1299.5 477.3 L1322.0 471.0 L1345.8 464.5 L1369.0 458.6 L1391.2 453.5 L1413.3 448.7 L1435.8 444.2 L1459.0 440.1 L1483.3 436.4 L1508.4 433.0 L1533.8 429.9 L1559.0 426.6" fill="none" stroke="#0000a8" stroke-width="18" stroke-linejoin="round" stroke-linecap="round" />
<path d="M1055.0 537.0 L1073.9 532.9 L1096.3 526.7 L1120.0 520.4 L1143.0 514.6 L1165.7 509.2 L1188.9 504.1 L1210.9 499.4 L1230.0 495.1 L1244.2 491.8 L1254.9 489.1 L1265.6 486.4 L1280.0 482.6 L1299.5 477.3 L1322.0 471.0 L1345.8 464.5 L1369.0 458.6 L1391.2 453.5 L1413.3 448.7 L1435.8 444.2 L1459.0 440.1 L1483.3 436.4 L1508.4 433.0 L1533.8 429.9 L1559.0 426.6" fill="none" stroke="#0000a8" stroke-width="32" stroke-linejoin="round" stroke-linecap="butt" />
<path d="M565.0 1472.0 L584.3 1463.9 L602.2 1455.9 L622.8 1447.6 L650.0 1438.0 L689.3 1426.0 L737.0 1412.2 L783.7 1399.1 L820.0 1389.0 L841.6 1383.4 L854.1 1380.6 L862.8 1378.8 L873.0 1376.0 L885.8 1371.6 L898.4 1366.7 L910.4 1361.7 L921.0 1357.0 L930.0 1352.8 L937.8 1348.8 L944.7 1344.8 L951.0 1340.5 L956.6 1335.8 L961.3 1330.7 L965.6 1325.6 L970.0 1320.6 L974.6 1315.6 L979.1 1310.6 L983.3 1305.6 L987.0 1301.0 L990.0 1296.7 L992.4 1292.8 L994.7 1288.9 L997.0 1285.0" fill="none" stroke="#0000a8" stroke-width="18" stroke-linejoin="round" stroke-linecap="round" />
<path d="M562.0 1455.0 L572.8 1451.0 L583.3 1447.1 L593.6 1443.2 L604.1 1439.2 L614.7 1435.3 L625.8 1431.3 L637.5 1427.2 L650.0 1423.0 L663.8 1418.6 L678.9 1413.9 L694.9 1409.1 L711.2 1404.3 L727.3 1399.6 L742.6 1395.0 L756.7 1390.8 L769.0 1387.0 L779.4 1383.7 L788.5 1380.9 L796.4 1378.3 L803.5 1376.0 L810.1 1373.7 L816.5 1371.4 L823.0 1368.9 L830.0 1366.0 L837.3 1362.9 L844.5 1359.7 L851.7 1356.4 L858.8 1353.0 L865.8 1349.5 L872.6 1345.8 L879.2 1342.0 L885.5 1338.0 L891.7 1333.7 L897.7 1329.0 L903.7 1324.1 L909.4 1319.1 L914.9 1314.2 L920.0 1309.4 L924.7 1305.0 L929.0 1301.0 L932.7 1297.5 L935.9 1294.5 L938.7 1291.7 L941.1 1289.2 L943.3 1286.7 L945.5 1284.3 L947.7 1281.7 L950.0 1279.0 L952.4 1276.1 L954.8 1273.0 L957.2 1270.0 L959.5 1266.9 L961.7 1263.8 L963.9 1260.8 L966.0 1257.8 L968.0 1255.0 L969.8 1252.5 L971.5 1250.4 L973.1 1248.4 L974.6 1246.5 L976.1 1244.4 L977.6 1241.9 L979.2 1238.8 L981.0 1235.0 L983.0 1230.4 L985.1 1225.1 L987.3 1219.3 L989.6 1213.1 L991.8 1206.6 L994.0 1200.0 L994.7 1288.9 L992.4 1292.8 L990.0 1296.7 L987.0 1301.0 L983.3 1305.6 L979.1 1310.6 L974.6 1315.6 L970.0 1320.6 L965.6 1325.6 L961.3 1330.7 L956.6 1335.8 L951.0 1340.5 L944.7 1344.8 L937.8 1348.8 L930.0 1352.8 L921.0 1357.0 L910.4 1361.7 L898.4 1366.7 L885.8 1371.6 L873.0 1376.0 L862.8 1378.8 L854.1 1380.6 L841.6 1383.4 L820.0 1389.0 L783.7 1399.1 L737.0 1412.2 L689.3 1426.0 L650.0 1438.0 L622.8 1447.6 L602.2 1455.9 L584.3 1463.9 L565.0 1472.0Z" fill="#0000a8"/>
<g fill="url(#gb)"><circle cx="565.0" cy="1472.0" r="13.8"/><circle cx="575.3" cy="1467.6" r="13.8"/><circle cx="585.6" cy="1463.2" r="13.8"/><circle cx="596.0" cy="1458.7" r="13.8"/><circle cx="606.3" cy="1454.3" r="13.8"/><circle cx="616.6" cy="1450.1" r="13.8"/><circle cx="627.0" cy="1446.1" r="13.8"/><circle cx="637.3" cy="1442.5" r="13.8"/><circle cx="647.7" cy="1438.8" r="13.8"/><circle cx="658.0" cy="1435.5" r="13.8"/><circle cx="668.4" cy="1432.4" r="13.8"/><circle cx="678.8" cy="1429.2" r="13.8"/><circle cx="689.2" cy="1426.0" r="13.8"/><circle cx="699.5" cy="1423.0" r="13.8"/><circle cx="709.9" cy="1420.0" r="13.8"/><circle cx="720.3" cy="1417.0" r="13.8"/><circle cx="730.7" cy="1414.0" r="13.8"/><circle cx="741.1" cy="1411.0" r="13.8"/><circle cx="751.4" cy="1408.1" r="13.8"/><circle cx="761.8" cy="1405.2" r="13.8"/><circle cx="772.2" cy="1402.3" r="13.8"/><circle cx="782.6" cy="1399.4" r="13.8"/><circle cx="793.0" cy="1396.5" r="13.8"/><circle cx="803.4" cy="1393.6" r="13.8"/><circle cx="813.7" cy="1390.7" r="13.8"/><circle cx="824.1" cy="1387.9" r="13.8"/><circle cx="834.5" cy="1385.2" r="13.8"/><circle cx="844.9" cy="1382.6" r="13.8"/><circle cx="855.3" cy="1380.4" r="13.8"/><circle cx="865.7" cy="1378.0" r="13.8"/><circle cx="876.1" cy="1374.9" r="13.8"/><circle cx="886.5" cy="1371.3" r="13.8"/><circle cx="896.8" cy="1367.3" r="13.8"/><circle cx="907.1" cy="1363.1" r="13.8"/><circle cx="917.5" cy="1358.6" r="13.8"/><circle cx="927.8" cy="1353.8" r="13.8"/><circle cx="938.1" cy="1348.7" r="13.8"/><circle cx="948.3" cy="1342.3" r="13.8"/><circle cx="958.5" cy="1333.7" r="13.8"/><circle cx="968.5" cy="1322.3" r="13.8"/><circle cx="978.6" cy="1311.1" r="13.8"/><circle cx="988.6" cy="1298.8" r="13.8"/><circle cx="997.0" cy="1285.0" r="13.8"/></g>
<g fill="url(#gb)"><circle cx="568.5" cy="1456.1" r="13.8"/><circle cx="579.9" cy="1452.1" r="13.8"/><circle cx="591.2" cy="1448.1" r="13.8"/><circle cx="602.5" cy="1444.0" r="13.8"/><circle cx="613.9" cy="1440.0" r="13.8"/><circle cx="625.2" cy="1436.1" r="13.8"/><circle cx="636.6" cy="1432.4" r="13.8"/><circle cx="647.9" cy="1428.7" r="13.8"/><circle cx="659.3" cy="1425.2" r="13.8"/><circle cx="670.6" cy="1421.8" r="13.8"/><circle cx="682.0" cy="1418.5" r="13.8"/><circle cx="693.4" cy="1415.2" r="13.8"/><circle cx="704.8" cy="1412.0" r="13.8"/><circle cx="716.1" cy="1408.8" r="13.8"/><circle cx="727.5" cy="1405.6" r="13.8"/><circle cx="738.9" cy="1402.4" r="13.8"/><circle cx="750.2" cy="1399.2" r="13.8"/><circle cx="761.6" cy="1395.9" r="13.8"/><circle cx="773.0" cy="1392.6" r="13.8"/><circle cx="784.3" cy="1389.2" r="13.8"/><circle cx="795.7" cy="1385.9" r="13.8"/><circle cx="807.1" cy="1382.2" r="13.8"/><circle cx="818.4" cy="1378.1" r="13.8"/><circle cx="829.7" cy="1373.7" r="13.8"/><circle cx="841.0" cy="1368.9" r="13.8"/><circle cx="852.3" cy="1363.8" r="13.8"/><circle cx="863.6" cy="1358.4" r="13.8"/><circle cx="874.9" cy="1352.5" r="13.8"/><circle cx="886.1" cy="1345.9" r="13.8"/><circle cx="897.3" cy="1338.2" r="13.8"/><circle cx="908.4" cy="1329.3" r="13.8"/><circle cx="919.5" cy="1319.4" r="13.8"/><circle cx="930.6" cy="1309.0" r="13.8"/><circle cx="941.7" cy="1298.6" r="13.8"/><circle cx="952.7" cy="1286.6" r="13.8"/><circle cx="963.7" cy="1273.0" r="13.8"/><circle cx="974.6" cy="1257.9" r="13.8"/><circle cx="985.5" cy="1242.0" r="13.8"/><circle cx="995.9" cy="1216.1" r="13.8"/><circle cx="1006.1" cy="1183.8" r="13.8"/><circle cx="1015.9" cy="1139.9" r="13.8"/><circle cx="1025.9" cy="1102.5" r="13.8"/><circle cx="1036.2" cy="1074.4" r="13.8"/><circle cx="1046.1" cy="1034.5" r="13.8"/><circle cx="1055.9" cy="991.8" r="13.8"/><circle cx="1065.3" cy="939.5" r="13.8"/><circle cx="1075.1" cy="896.9" r="13.8"/><circle cx="1084.6" cy="845.4" r="13.8"/><circle cx="1094.7" cy="810.2" r="13.8"/><circle cx="1104.6" cy="769.9" r="13.8"/><circle cx="1114.6" cy="732.6" r="13.8"/><circle cx="1124.8" cy="699.7" r="13.8"/><circle cx="1135.2" cy="673.2" r="13.8"/><circle cx="1145.8" cy="649.7" r="13.8"/><circle cx="1156.4" cy="627.5" r="13.8"/><circle cx="1167.0" cy="606.3" r="13.8"/><circle cx="1177.8" cy="587.2" r="13.8"/><circle cx="1188.7" cy="573.9" r="13.8"/><circle cx="1199.9" cy="566.0" r="13.8"/><circle cx="1211.1" cy="557.3" r="13.8"/><circle cx="1222.2" cy="549.3" r="13.8"/><circle cx="1233.4" cy="541.8" r="13.8"/><circle cx="1244.7" cy="534.7" r="13.8"/><circle cx="1255.9" cy="528.3" r="13.8"/><circle cx="1267.2" cy="523.2" r="13.8"/><circle cx="1278.5" cy="519.3" r="13.8"/><circle cx="1289.9" cy="515.8" r="13.8"/><circle cx="1301.2" cy="511.9" r="13.8"/><circle cx="1312.6" cy="507.1" r="13.8"/><circle cx="1323.8" cy="501.0" r="13.8"/><circle cx="1335.0" cy="494.1" r="13.8"/><circle cx="1346.3" cy="487.4" r="13.8"/><circle cx="1357.5" cy="481.3" r="13.8"/><circle cx="1368.8" cy="476.2" r="13.8"/><circle cx="1380.1" cy="471.8" r="13.8"/><circle cx="1391.5" cy="468.0" r="13.8"/><circle cx="1402.9" cy="464.5" r="13.8"/><circle cx="1414.2" cy="461.3" r="13.8"/><circle cx="1425.6" cy="458.2" r="13.8"/><circle cx="1437.0" cy="455.3" r="13.8"/><circle cx="1448.4" cy="452.6" r="13.8"/><circle cx="1459.8" cy="449.9" r="13.8"/><circle cx="1471.2" cy="447.5" r="13.8"/><circle cx="1482.6" cy="445.3" r="13.8"/><circle cx="1494.0" cy="443.2" r="13.8"/><circle cx="1505.4" cy="441.3" r="13.8"/><circle cx="1516.8" cy="439.4" r="13.8"/><circle cx="1528.3" cy="437.6" r="13.8"/><circle cx="1539.7" cy="435.7" r="13.8"/><circle cx="1551.1" cy="433.8" r="13.8"/><circle cx="1559.4" cy="432.4" r="13.8"/></g>
<g fill="url(#gb)"><circle cx="560.9" cy="1452.0" r="13.8"/><circle cx="572.2" cy="1447.6" r="13.8"/><circle cx="583.6" cy="1443.1" r="13.8"/><circle cx="594.9" cy="1438.6" r="13.8"/><circle cx="606.2" cy="1434.1" r="13.8"/><circle cx="617.5" cy="1429.7" r="13.8"/><circle cx="628.8" cy="1425.5" r="13.8"/><circle cx="640.2" cy="1421.4" r="13.8"/><circle cx="651.5" cy="1417.4" r="13.8"/><circle cx="662.9" cy="1413.6" r="13.8"/><circle cx="674.2" cy="1410.0" r="13.8"/><circle cx="685.6" cy="1406.4" r="13.8"/><circle cx="696.9" cy="1402.8" r="13.8"/><circle cx="708.3" cy="1399.3" r="13.8"/><circle cx="719.7" cy="1395.8" r="13.8"/><circle cx="731.0" cy="1392.3" r="13.8"/><circle cx="742.4" cy="1388.8" r="13.8"/><circle cx="753.7" cy="1385.2" r="13.8"/><circle cx="765.1" cy="1381.5" r="13.8"/><circle cx="776.4" cy="1377.7" r="13.8"/><circle cx="787.8" cy="1373.8" r="13.8"/><circle cx="799.1" cy="1370.1" r="13.8"/><circle cx="810.5" cy="1366.1" r="13.8"/><circle cx="821.8" cy="1361.8" r="13.8"/><circle cx="833.1" cy="1357.1" r="13.8"/><circle cx="844.4" cy="1352.1" r="13.8"/><circle cx="855.7" cy="1346.7" r="13.8"/><circle cx="867.0" cy="1340.9" r="13.8"/><circle cx="878.2" cy="1334.3" r="13.8"/><circle cx="889.4" cy="1326.6" r="13.8"/><circle cx="900.5" cy="1317.6" r="13.8"/><circle cx="911.6" cy="1307.6" r="13.8"/><circle cx="922.7" cy="1297.3" r="13.8"/><circle cx="933.8" cy="1286.7" r="13.8"/><circle cx="944.8" cy="1274.3" r="13.8"/><circle cx="955.7" cy="1260.2" r="13.8"/><circle cx="966.6" cy="1245.3" r="13.8"/><circle cx="977.4" cy="1225.6" r="13.8"/><circle cx="987.7" cy="1196.7" r="13.8"/><circle cx="997.7" cy="1158.5" r="13.8"/><circle cx="1007.4" cy="1113.1" r="13.8"/><circle cx="1017.7" cy="1084.8" r="13.8"/><circle cx="1027.9" cy="1051.6" r="13.8"/><circle cx="1037.7" cy="1009.3" r="13.8"/><circle cx="1047.2" cy="960.1" r="13.8"/><circle cx="1056.9" cy="914.4" r="13.8"/><circle cx="1066.4" cy="864.2" r="13.8"/><circle cx="1076.3" cy="824.0" r="13.8"/><circle cx="1086.3" cy="785.8" r="13.8"/><circle cx="1096.2" cy="746.8" r="13.8"/><circle cx="1106.3" cy="711.1" r="13.8"/><circle cx="1116.6" cy="681.6" r="13.8"/><circle cx="1127.1" cy="656.8" r="13.8"/><circle cx="1137.7" cy="634.0" r="13.8"/><circle cx="1148.3" cy="612.2" r="13.8"/><circle cx="1159.0" cy="591.6" r="13.8"/><circle cx="1169.8" cy="573.9" r="13.8"/><circle cx="1180.8" cy="562.4" r="13.8"/><circle cx="1192.0" cy="554.4" r="13.8"/><circle cx="1203.2" cy="545.7" r="13.8"/><circle cx="1214.3" cy="537.7" r="13.8"/><circle cx="1225.5" cy="530.3" r="13.8"/><circle cx="1236.8" cy="523.1" r="13.8"/><circle cx="1248.0" cy="516.7" r="13.8"/><circle cx="1259.3" cy="511.3" r="13.8"/><circle cx="1270.6" cy="507.2" r="13.8"/><circle cx="1282.0" cy="503.6" r="13.8"/><circle cx="1293.3" cy="499.9" r="13.8"/><circle cx="1304.6" cy="495.4" r="13.8"/><circle cx="1315.9" cy="489.8" r="13.8"/><circle cx="1327.2" cy="483.7" r="13.8"/><circle cx="1338.4" cy="477.6" r="13.8"/><circle cx="1349.7" cy="471.9" r="13.8"/><circle cx="1361.0" cy="467.1" r="13.8"/><circle cx="1372.4" cy="463.0" r="13.8"/><circle cx="1383.7" cy="459.5" r="13.8"/><circle cx="1395.1" cy="456.3" r="13.8"/><circle cx="1406.5" cy="453.3" r="13.8"/><circle cx="1417.9" cy="450.6" r="13.8"/><circle cx="1429.3" cy="448.0" r="13.8"/><circle cx="1440.7" cy="445.6" r="13.8"/><circle cx="1452.1" cy="443.3" r="13.8"/><circle cx="1463.5" cy="441.1" r="13.8"/><circle cx="1474.9" cy="439.1" r="13.8"/><circle cx="1486.3" cy="437.3" r="13.8"/><circle cx="1497.8" cy="435.7" r="13.8"/><circle cx="1509.2" cy="434.1" r="13.8"/><circle cx="1520.6" cy="432.6" r="13.8"/><circle cx="1532.1" cy="431.2" r="13.8"/><circle cx="1543.5" cy="429.7" r="13.8"/><circle cx="1555.0" cy="428.1" r="13.8"/><circle cx="1558.6" cy="427.6" r="13.8"/></g>
<g fill="url(#gb)"><circle cx="1038.4" cy="557.6" r="13.8"/><circle cx="1048.6" cy="550.7" r="13.8"/><circle cx="1058.9" cy="545.9" r="13.8"/><circle cx="1069.3" cy="542.3" r="13.8"/><circle cx="1079.7" cy="539.0" r="13.8"/><circle cx="1090.0" cy="536.0" r="13.8"/><circle cx="1100.4" cy="533.1" r="13.8"/><circle cx="1110.8" cy="530.4" r="13.8"/><circle cx="1121.2" cy="527.6" r="13.8"/><circle cx="1131.6" cy="525.0" r="13.8"/><circle cx="1142.0" cy="522.4" r="13.8"/><circle cx="1152.4" cy="519.9" r="13.8"/><circle cx="1162.8" cy="517.4" r="13.8"/><circle cx="1173.2" cy="515.1" r="13.8"/><circle cx="1183.6" cy="512.8" r="13.8"/><circle cx="1194.0" cy="510.5" r="13.8"/><circle cx="1204.4" cy="508.3" r="13.8"/><circle cx="1214.8" cy="506.0" r="13.8"/><circle cx="1225.2" cy="503.7" r="13.8"/><circle cx="1235.6" cy="501.3" r="13.8"/><circle cx="1246.0" cy="498.8" r="13.8"/><circle cx="1256.4" cy="496.2" r="13.8"/><circle cx="1266.8" cy="493.5" r="13.8"/><circle cx="1277.2" cy="490.8" r="13.8"/><circle cx="1287.6" cy="488.0" r="13.8"/><circle cx="1298.0" cy="485.2" r="13.8"/><circle cx="1308.4" cy="482.3" r="13.8"/><circle cx="1318.8" cy="479.4" r="13.8"/><circle cx="1329.2" cy="476.5" r="13.8"/><circle cx="1339.5" cy="473.7" r="13.8"/><circle cx="1349.9" cy="470.9" r="13.8"/><circle cx="1360.3" cy="468.3" r="13.8"/><circle cx="1370.7" cy="465.7" r="13.8"/><circle cx="1381.1" cy="463.3" r="13.8"/><circle cx="1391.5" cy="460.9" r="13.8"/><circle cx="1401.9" cy="458.6" r="13.8"/><circle cx="1412.4" cy="456.4" r="13.8"/><circle cx="1422.8" cy="454.3" r="13.8"/><circle cx="1433.2" cy="452.3" r="13.8"/><circle cx="1443.6" cy="450.3" r="13.8"/><circle cx="1454.0" cy="448.5" r="13.8"/><circle cx="1464.5" cy="446.8" r="13.8"/><circle cx="1474.9" cy="445.2" r="13.8"/><circle cx="1485.3" cy="443.6" r="13.8"/><circle cx="1495.8" cy="442.2" r="13.8"/><circle cx="1506.2" cy="440.8" r="13.8"/><circle cx="1516.7" cy="439.5" r="13.8"/><circle cx="1527.1" cy="438.2" r="13.8"/><circle cx="1537.6" cy="436.9" r="13.8"/><circle cx="1548.0" cy="435.5" r="13.8"/><circle cx="1558.5" cy="434.4" r="13.8"/><circle cx="1562.0" cy="434.1" r="13.8"/></g>
<g fill="url(#gb)"><circle cx="969.0" cy="570.1" r="13.8"/><circle cx="979.4" cy="567.2" r="13.8"/><circle cx="989.6" cy="561.1" r="13.8"/><circle cx="999.9" cy="555.1" r="13.8"/><circle cx="1010.2" cy="549.5" r="13.8"/><circle cx="1020.5" cy="544.5" r="13.8"/><circle cx="1030.8" cy="539.8" r="13.8"/><circle cx="1041.1" cy="535.8" r="13.8"/><circle cx="1051.5" cy="532.3" r="13.8"/><circle cx="1061.9" cy="529.0" r="13.8"/><circle cx="1072.2" cy="525.9" r="13.8"/><circle cx="1082.6" cy="523.0" r="13.8"/><circle cx="1093.0" cy="520.1" r="13.8"/><circle cx="1103.4" cy="517.3" r="13.8"/><circle cx="1113.8" cy="514.6" r="13.8"/><circle cx="1124.2" cy="511.9" r="13.8"/><circle cx="1134.6" cy="509.2" r="13.8"/><circle cx="1145.0" cy="506.6" r="13.8"/><circle cx="1155.4" cy="504.2" r="13.8"/><circle cx="1165.8" cy="501.7" r="13.8"/><circle cx="1176.2" cy="499.4" r="13.8"/><circle cx="1186.6" cy="497.1" r="13.8"/><circle cx="1197.0" cy="494.9" r="13.8"/><circle cx="1207.4" cy="492.6" r="13.8"/><circle cx="1217.8" cy="490.3" r="13.8"/><circle cx="1228.2" cy="488.0" r="13.8"/><circle cx="1238.6" cy="485.6" r="13.8"/><circle cx="1249.0" cy="483.1" r="13.8"/><circle cx="1259.4" cy="480.5" r="13.8"/><circle cx="1269.8" cy="477.8" r="13.8"/><circle cx="1280.2" cy="475.0" r="13.8"/><circle cx="1290.6" cy="472.2" r="13.8"/><circle cx="1301.0" cy="469.4" r="13.8"/><circle cx="1311.4" cy="466.5" r="13.8"/><circle cx="1321.7" cy="463.5" r="13.8"/><circle cx="1332.1" cy="460.7" r="13.8"/><circle cx="1342.5" cy="457.9" r="13.8"/><circle cx="1352.9" cy="455.2" r="13.8"/><circle cx="1363.3" cy="452.5" r="13.8"/><circle cx="1373.7" cy="450.0" r="13.8"/><circle cx="1384.1" cy="447.6" r="13.8"/><circle cx="1394.5" cy="445.3" r="13.8"/><circle cx="1404.9" cy="443.0" r="13.8"/><circle cx="1415.3" cy="440.8" r="13.8"/><circle cx="1425.7" cy="438.7" r="13.8"/><circle cx="1436.2" cy="436.7" r="13.8"/><circle cx="1446.6" cy="434.8" r="13.8"/><circle cx="1457.0" cy="433.0" r="13.8"/><circle cx="1467.4" cy="431.3" r="13.8"/><circle cx="1477.9" cy="429.7" r="13.8"/><circle cx="1488.3" cy="428.2" r="13.8"/><circle cx="1498.8" cy="426.8" r="13.8"/><circle cx="1509.2" cy="425.4" r="13.8"/><circle cx="1519.7" cy="424.1" r="13.8"/><circle cx="1530.1" cy="422.8" r="13.8"/><circle cx="1540.6" cy="421.5" r="13.8"/><circle cx="1551.0" cy="420.1" r="13.8"/><circle cx="1559.0" cy="419.1" r="13.8"/></g>
<g fill="url(#gb)"><circle cx="969.0" cy="570.1" r="15"/><circle cx="1035.5" cy="560.1" r="15"/><circle cx="958.5" cy="734.0" r="15"/><circle cx="1035.5" cy="557.0" r="15"/><circle cx="1019.0" cy="759.0" r="15"/></g>
<path d="M1176.0 640.0 L1173.3 643.1 L1170.6 648.5 L1168.2 661.2 L1164.7 676.0 L1157.5 686.9 L1151.0 701.0 L1150.7 723.0 L1151.5 754.0 L1149.1 801.5 L1146.0 851.0 L1143.3 887.8 L1141.0 920.0 L1139.7 944.3 L1138.3 980.0 L1135.7 1055.4 L1132.4 1140.0 L1128.2 1215.9 L1124.3 1274.0 L1122.4 1286.9 L1120.3 1291.0 L1115.5 1320.8 L1110.0 1355.0 L1105.4 1384.7 L1100.8 1408.0 L1095.9 1417.0 L1091.0 1421.0" fill="none" stroke="#ff00ff" stroke-width="14.5" stroke-linejoin="round" stroke-linecap="round" />
<path d="M1238.7 664.0 L1239.2 687.9 L1238.7 715.0 L1234.9 753.0 L1231.0 792.0 L1230.4 818.9 L1230.0 851.0 L1227.3 908.6 L1224.0 969.0 L1220.8 1014.6 L1218.0 1050.0 L1217.3 1066.9 L1216.0 1087.0 L1210.9 1136.1 L1205.0 1194.0 L1200.1 1249.2 L1196.0 1301.0 L1193.1 1345.7 L1191.0 1381.0 L1189.4 1400.0 L1188.0 1413.0" fill="none" stroke="#ff00ff" stroke-width="14.5" stroke-linejoin="round" stroke-linecap="round" />
<line x1="1209.5" y1="664.0" x2="1197.8" y2="716.6" stroke="#ff00ff" stroke-width="13.5" stroke-linecap="butt" />
<line x1="1188.0" y1="779.0" x2="1180.3" y2="831.4" stroke="#ff00ff" stroke-width="13.5" stroke-linecap="butt" />
<line x1="1177.0" y1="895.0" x2="1170.0" y2="960.0" stroke="#ff00ff" stroke-width="13.5" stroke-linecap="butt" />
<line x1="1163.0" y1="1025.5" x2="1155.0" y2="1119.0" stroke="#ff00ff" stroke-width="13.5" stroke-linecap="butt" />
<line x1="1147.0" y1="1183.5" x2="1144.4" y2="1247.7" stroke="#ff00ff" stroke-width="13.5" stroke-linecap="butt" />
<line x1="1133.7" y1="1306.6" x2="1133.7" y2="1371.0" stroke="#ff00ff" stroke-width="13.5" stroke-linecap="butt" />
<line x1="1224.0" y1="730.0" x2="1219.0" y2="800.0" stroke="#ff00ff" stroke-width="13.5" stroke-linecap="butt" />
<line x1="1214.0" y1="850.0" x2="1208.0" y2="925.0" stroke="#ff00ff" stroke-width="13.5" stroke-linecap="butt" />
<line x1="1204.0" y1="975.0" x2="1198.0" y2="1050.0" stroke="#ff00ff" stroke-width="13.5" stroke-linecap="butt" />
<line x1="1192.6" y1="1111.0" x2="1179.2" y2="1247.7" stroke="#ff00ff" stroke-width="13.5" stroke-linecap="butt" />
<line x1="1168.5" y1="1306.6" x2="1160.5" y2="1376.0" stroke="#ff00ff" stroke-width="13.5" stroke-linecap="butt" />
<path d="M687.0 1556.0 L728.3 1542.6 L769.9 1529.1 L810.8 1515.8 L850.0 1503.0 L889.0 1490.3 L927.6 1477.6 L962.7 1466.2 L991.0 1457.0 L1009.3 1451.1 L1020.2 1447.6 L1028.8 1445.0 L1040.0 1442.0 L1055.6 1438.2 L1072.8 1434.4 L1089.8 1430.7" fill="none" stroke="#b800b8" stroke-width="34" stroke-linejoin="round" stroke-linecap="butt" />
<path d="M1089.8 1430.7 L1105.0 1427.0 L1117.9 1423.4 L1129.5 1419.9 L1140.1 1416.4 L1150.0 1413.0 L1159.1 1409.7 L1167.2 1406.4 L1175.0 1403.2 L1183.0 1400.0" fill="none" stroke="#b800b8" stroke-width="16" stroke-linejoin="round" stroke-linecap="round" />
<path d="M690.0 1565.0 L730.4 1551.3 L771.2 1537.5 L811.3 1523.9 L850.0 1511.0 L888.7 1498.2 L927.4 1485.4 L962.7 1474.0 L991.0 1465.0 L1009.0 1459.5 L1019.3 1456.7 L1027.7 1454.8 L1040.0 1452.0 L1058.8 1447.9 L1080.6 1443.4 L1102.1 1438.9 L1120.0 1435.0 L1133.1 1431.8 L1143.2 1429.1 L1151.8 1426.6 L1160.0 1424.0 L1167.8 1421.2 L1174.8 1418.5 L1181.3 1415.8 L1188.0 1413.0" fill="none" stroke="#b800b8" stroke-width="18" stroke-linejoin="round" stroke-linecap="round" />
<path d="M1238.7 642.5 L1249.4 639.2 L1257.7 635.9 L1266.8 632.1 L1280.0 627.0 L1298.9 619.9 L1321.5 611.4 L1345.6 602.6 L1369.0 594.7 L1391.4 587.9 L1413.8 581.6 L1436.2 575.7 L1458.6 570.0 L1481.0 564.5 L1503.3 559.2 L1525.7 554.1 L1548.0 549.0 L1571.1 543.6 L1594.8 538.1 L1617.4 533.0 L1637.0 529.0 L1652.6 526.5 L1665.3 525.1 L1676.9 524.2" fill="none" stroke="#b800b8" stroke-width="44" stroke-linejoin="round" stroke-linecap="butt" />
<path d="M1176.0 643.3 L1192.2 640.0 L1208.7 636.7 L1224.5 633.3 L1238.7 629.8 L1249.4 626.5 L1257.7 623.2 L1266.8 619.4" fill="none" stroke="#b800b8" stroke-width="18" stroke-linejoin="round" stroke-linecap="round" />
<g fill="url(#gm)"><circle cx="690.0" cy="1565.0" r="13.8"/><circle cx="700.4" cy="1561.5" r="13.8"/><circle cx="710.7" cy="1558.0" r="13.8"/><circle cx="721.1" cy="1554.5" r="13.8"/><circle cx="731.4" cy="1551.0" r="13.8"/><circle cx="741.8" cy="1547.5" r="13.8"/><circle cx="752.2" cy="1544.0" r="13.8"/><circle cx="762.5" cy="1540.4" r="13.8"/><circle cx="772.9" cy="1536.9" r="13.8"/><circle cx="783.2" cy="1533.4" r="13.8"/><circle cx="793.6" cy="1529.9" r="13.8"/><circle cx="804.0" cy="1526.4" r="13.8"/><circle cx="814.3" cy="1522.9" r="13.8"/><circle cx="824.7" cy="1519.5" r="13.8"/><circle cx="835.0" cy="1516.0" r="13.8"/><circle cx="845.4" cy="1512.5" r="13.8"/><circle cx="855.8" cy="1509.1" r="13.8"/><circle cx="866.1" cy="1505.7" r="13.8"/><circle cx="876.5" cy="1502.2" r="13.8"/><circle cx="886.9" cy="1498.8" r="13.8"/><circle cx="897.2" cy="1495.4" r="13.8"/><circle cx="907.6" cy="1492.0" r="13.8"/><circle cx="917.9" cy="1488.6" r="13.8"/><circle cx="928.3" cy="1485.2" r="13.8"/><circle cx="938.7" cy="1481.8" r="13.8"/><circle cx="949.0" cy="1478.4" r="13.8"/><circle cx="959.4" cy="1475.1" r="13.8"/><circle cx="969.8" cy="1471.7" r="13.8"/><circle cx="980.1" cy="1468.4" r="13.8"/><circle cx="990.5" cy="1465.2" r="13.8"/><circle cx="1000.9" cy="1462.0" r="13.8"/><circle cx="1011.3" cy="1458.9" r="13.8"/><circle cx="1021.6" cy="1456.2" r="13.8"/><circle cx="1032.1" cy="1453.8" r="13.8"/><circle cx="1042.5" cy="1451.5" r="13.8"/><circle cx="1052.9" cy="1449.2" r="13.8"/><circle cx="1063.3" cy="1447.0" r="13.8"/><circle cx="1073.7" cy="1444.8" r="13.8"/><circle cx="1084.1" cy="1442.6" r="13.8"/><circle cx="1094.5" cy="1440.5" r="13.8"/><circle cx="1104.9" cy="1438.3" r="13.8"/><circle cx="1115.3" cy="1436.0" r="13.8"/><circle cx="1125.7" cy="1433.6" r="13.8"/><circle cx="1136.1" cy="1431.0" r="13.8"/><circle cx="1146.5" cy="1428.2" r="13.8"/><circle cx="1156.9" cy="1425.0" r="13.8"/><circle cx="1167.3" cy="1421.5" r="13.8"/><circle cx="1177.6" cy="1417.3" r="13.8"/><circle cx="1187.9" cy="1413.0" r="13.8"/></g>
<g fill="url(#gm)"><circle cx="692.9" cy="1545.7" r="13.8"/><circle cx="703.3" cy="1542.3" r="13.8"/><circle cx="713.7" cy="1538.9" r="13.8"/><circle cx="724.0" cy="1535.5" r="13.8"/><circle cx="734.4" cy="1532.0" r="13.8"/><circle cx="744.8" cy="1528.6" r="13.8"/><circle cx="755.1" cy="1525.2" r="13.8"/><circle cx="765.5" cy="1521.8" r="13.8"/><circle cx="775.9" cy="1518.4" r="13.8"/><circle cx="786.2" cy="1515.0" r="13.8"/><circle cx="796.6" cy="1511.6" r="13.8"/><circle cx="806.9" cy="1508.1" r="13.8"/><circle cx="817.3" cy="1504.7" r="13.8"/><circle cx="827.7" cy="1501.3" r="13.8"/><circle cx="838.0" cy="1497.9" r="13.8"/><circle cx="848.4" cy="1494.5" r="13.8"/><circle cx="858.8" cy="1491.1" r="13.8"/><circle cx="869.1" cy="1487.7" r="13.8"/><circle cx="879.5" cy="1484.4" r="13.8"/><circle cx="889.9" cy="1481.0" r="13.8"/><circle cx="900.2" cy="1477.6" r="13.8"/><circle cx="910.6" cy="1474.2" r="13.8"/><circle cx="921.0" cy="1470.8" r="13.8"/><circle cx="931.3" cy="1467.4" r="13.8"/><circle cx="941.7" cy="1464.1" r="13.8"/><circle cx="952.0" cy="1460.7" r="13.8"/><circle cx="962.4" cy="1457.3" r="13.8"/><circle cx="972.8" cy="1453.9" r="13.8"/><circle cx="983.1" cy="1450.6" r="13.8"/><circle cx="993.5" cy="1447.2" r="13.8"/><circle cx="1003.9" cy="1443.7" r="13.8"/><circle cx="1014.2" cy="1440.2" r="13.8"/><circle cx="1024.6" cy="1436.7" r="13.8"/><circle cx="1035.0" cy="1433.5" r="13.8"/><circle cx="1045.3" cy="1430.7" r="13.8"/><circle cx="1055.7" cy="1428.2" r="13.8"/><circle cx="1066.2" cy="1426.0" r="13.8"/><circle cx="1076.6" cy="1424.0" r="13.8"/><circle cx="1087.0" cy="1421.8" r="13.8"/><circle cx="1091.0" cy="1421.0" r="13.8"/></g>
<g fill="url(#gm)"><circle cx="1238.7" cy="666.0" r="13.8"/><circle cx="1248.7" cy="652.8" r="13.8"/><circle cx="1259.0" cy="648.1" r="13.8"/><circle cx="1269.3" cy="643.8" r="13.8"/><circle cx="1279.7" cy="639.8" r="13.8"/><circle cx="1290.0" cy="636.0" r="13.8"/><circle cx="1300.3" cy="632.1" r="13.8"/><circle cx="1310.7" cy="628.2" r="13.8"/><circle cx="1321.0" cy="624.3" r="13.8"/><circle cx="1331.4" cy="620.5" r="13.8"/><circle cx="1341.7" cy="616.7" r="13.8"/><circle cx="1352.1" cy="613.1" r="13.8"/><circle cx="1362.4" cy="609.6" r="13.8"/><circle cx="1372.8" cy="606.2" r="13.8"/><circle cx="1383.2" cy="603.1" r="13.8"/><circle cx="1393.6" cy="600.0" r="13.8"/><circle cx="1403.9" cy="597.1" r="13.8"/><circle cx="1414.3" cy="594.2" r="13.8"/><circle cx="1424.7" cy="591.5" r="13.8"/><circle cx="1435.1" cy="588.7" r="13.8"/><circle cx="1445.5" cy="586.1" r="13.8"/><circle cx="1455.9" cy="583.4" r="13.8"/><circle cx="1466.3" cy="580.8" r="13.8"/><circle cx="1476.7" cy="578.2" r="13.8"/><circle cx="1487.1" cy="575.7" r="13.8"/><circle cx="1497.5" cy="573.3" r="13.8"/><circle cx="1507.9" cy="570.9" r="13.8"/><circle cx="1518.3" cy="568.5" r="13.8"/><circle cx="1528.7" cy="566.1" r="13.8"/><circle cx="1539.1" cy="563.7" r="13.8"/><circle cx="1549.5" cy="561.3" r="13.8"/><circle cx="1559.9" cy="558.9" r="13.8"/><circle cx="1570.3" cy="556.5" r="13.8"/><circle cx="1580.7" cy="554.1" r="13.8"/><circle cx="1591.1" cy="551.6" r="13.8"/><circle cx="1601.5" cy="549.3" r="13.8"/><circle cx="1611.9" cy="546.9" r="13.8"/><circle cx="1622.3" cy="544.7" r="13.8"/><circle cx="1632.8" cy="542.6" r="13.8"/><circle cx="1643.2" cy="540.7" r="13.8"/><circle cx="1653.6" cy="539.1" r="13.8"/><circle cx="1664.1" cy="538.0" r="13.8"/><circle cx="1674.5" cy="537.1" r="13.8"/><circle cx="1685.0" cy="536.1" r="13.8"/><circle cx="1689.0" cy="535.7" r="13.8"/></g>
<g fill="url(#gm)"><circle cx="1211.9" cy="652.5" r="13.8"/><circle cx="1222.2" cy="647.2" r="13.8"/><circle cx="1232.6" cy="644.0" r="13.8"/><circle cx="1243.0" cy="641.2" r="13.8"/><circle cx="1253.3" cy="637.6" r="13.8"/><circle cx="1263.7" cy="633.4" r="13.8"/><circle cx="1274.0" cy="629.3" r="13.8"/><circle cx="1284.4" cy="625.4" r="13.8"/><circle cx="1294.7" cy="621.5" r="13.8"/><circle cx="1305.0" cy="617.6" r="13.8"/><circle cx="1315.4" cy="613.7" r="13.8"/><circle cx="1325.7" cy="609.9" r="13.8"/><circle cx="1336.1" cy="606.1" r="13.8"/><circle cx="1346.4" cy="602.3" r="13.8"/><circle cx="1356.8" cy="598.8" r="13.8"/><circle cx="1367.2" cy="595.3" r="13.8"/><circle cx="1377.5" cy="592.1" r="13.8"/><circle cx="1387.9" cy="589.0" r="13.8"/><circle cx="1398.3" cy="586.0" r="13.8"/><circle cx="1408.7" cy="583.1" r="13.8"/><circle cx="1419.1" cy="580.3" r="13.8"/><circle cx="1429.4" cy="577.5" r="13.8"/><circle cx="1439.8" cy="574.8" r="13.8"/><circle cx="1450.2" cy="572.1" r="13.8"/><circle cx="1460.6" cy="569.5" r="13.8"/><circle cx="1471.0" cy="566.9" r="13.8"/><circle cx="1481.4" cy="564.4" r="13.8"/><circle cx="1491.8" cy="561.9" r="13.8"/><circle cx="1502.2" cy="559.5" r="13.8"/><circle cx="1512.6" cy="557.1" r="13.8"/><circle cx="1523.0" cy="554.7" r="13.8"/><circle cx="1533.4" cy="552.3" r="13.8"/><circle cx="1543.8" cy="549.9" r="13.8"/><circle cx="1554.2" cy="547.5" r="13.8"/><circle cx="1564.6" cy="545.1" r="13.8"/><circle cx="1575.0" cy="542.7" r="13.8"/><circle cx="1585.5" cy="540.3" r="13.8"/><circle cx="1595.9" cy="537.8" r="13.8"/><circle cx="1606.3" cy="535.5" r="13.8"/><circle cx="1616.7" cy="533.1" r="13.8"/><circle cx="1627.1" cy="531.0" r="13.8"/><circle cx="1637.5" cy="528.9" r="13.8"/><circle cx="1647.9" cy="527.3" r="13.8"/><circle cx="1658.4" cy="525.9" r="13.8"/><circle cx="1668.8" cy="524.8" r="13.8"/><circle cx="1679.3" cy="523.9" r="13.8"/><circle cx="1689.0" cy="523.0" r="13.8"/></g>
<g fill="url(#gm)"><circle cx="1182.0" cy="642.1" r="13.8"/><circle cx="1192.4" cy="639.9" r="13.8"/><circle cx="1202.8" cy="637.9" r="13.8"/><circle cx="1213.2" cy="635.7" r="13.8"/><circle cx="1223.6" cy="633.5" r="13.8"/><circle cx="1234.0" cy="631.0" r="13.8"/><circle cx="1244.4" cy="628.0" r="13.8"/><circle cx="1254.7" cy="624.4" r="13.8"/><circle cx="1265.1" cy="620.1" r="13.8"/><circle cx="1275.4" cy="616.1" r="13.8"/><circle cx="1285.8" cy="612.1" r="13.8"/><circle cx="1296.1" cy="608.3" r="13.8"/><circle cx="1306.4" cy="604.4" r="13.8"/><circle cx="1316.8" cy="600.5" r="13.8"/><circle cx="1327.1" cy="596.7" r="13.8"/><circle cx="1337.5" cy="592.9" r="13.8"/><circle cx="1347.8" cy="589.2" r="13.8"/><circle cx="1358.2" cy="585.7" r="13.8"/><circle cx="1368.6" cy="582.2" r="13.8"/><circle cx="1378.9" cy="579.0" r="13.8"/><circle cx="1389.3" cy="575.8" r="13.8"/><circle cx="1399.7" cy="572.9" r="13.8"/><circle cx="1410.1" cy="570.0" r="13.8"/><circle cx="1420.5" cy="567.2" r="13.8"/><circle cx="1430.8" cy="564.4" r="13.8"/><circle cx="1441.2" cy="561.7" r="13.8"/><circle cx="1451.6" cy="559.1" r="13.8"/><circle cx="1462.0" cy="556.5" r="13.8"/><circle cx="1472.4" cy="553.9" r="13.8"/><circle cx="1482.8" cy="551.3" r="13.8"/><circle cx="1493.2" cy="548.9" r="13.8"/><circle cx="1503.6" cy="546.4" r="13.8"/><circle cx="1514.0" cy="544.1" r="13.8"/><circle cx="1524.4" cy="541.7" r="13.8"/><circle cx="1534.8" cy="539.3" r="13.8"/><circle cx="1545.2" cy="536.9" r="13.8"/><circle cx="1555.6" cy="534.5" r="13.8"/><circle cx="1566.1" cy="532.1" r="13.8"/><circle cx="1576.5" cy="529.7" r="13.8"/><circle cx="1586.9" cy="527.2" r="13.8"/><circle cx="1597.3" cy="524.8" r="13.8"/><circle cx="1607.7" cy="522.5" r="13.8"/><circle cx="1618.1" cy="520.1" r="13.8"/><circle cx="1628.5" cy="518.0" r="13.8"/><circle cx="1638.9" cy="516.0" r="13.8"/><circle cx="1649.3" cy="514.3" r="13.8"/><circle cx="1659.8" cy="513.0" r="13.8"/><circle cx="1670.2" cy="512.0" r="13.8"/><circle cx="1680.7" cy="511.1" r="13.8"/><circle cx="1689.0" cy="510.3" r="13.8"/></g>
<g fill="url(#gm)"><circle cx="1151.0" cy="701.0" r="15"/><circle cx="1186.0" cy="765.0" r="15"/><circle cx="1213.4" cy="792.5" r="15"/><circle cx="1157.8" cy="1052.3" r="15"/><circle cx="1184.6" cy="1167.4" r="15"/><circle cx="1208.7" cy="1186.0" r="15"/><circle cx="1120.3" cy="1290.6" r="15"/><circle cx="1157.8" cy="1365.5" r="15"/><circle cx="1131.0" cy="1397.7" r="15"/><circle cx="1188.0" cy="1413.0" r="15"/><circle cx="1176.4" cy="639.0" r="15"/><circle cx="1238.7" cy="664.0" r="15"/><circle cx="1209.0" cy="652.0" r="15"/></g>
<line x1="1695.7" y1="505.0" x2="1667.6" y2="1412.0" stroke="#000" stroke-width="13" stroke-linecap="butt" />
<line x1="1692.5" y1="511.4" x2="1735.5" y2="511.4" stroke="#000" stroke-width="12.0" stroke-linecap="butt" />
<line x1="1689.2" y1="618.6" x2="1731.9" y2="618.6" stroke="#000" stroke-width="11.7" stroke-linecap="butt" />
<line x1="1686.0" y1="721.8" x2="1728.4" y2="721.8" stroke="#000" stroke-width="11.4" stroke-linecap="butt" />
<line x1="1682.8" y1="825.0" x2="1724.9" y2="825.0" stroke="#000" stroke-width="11.1" stroke-linecap="butt" />
<line x1="1679.6" y1="929.0" x2="1721.4" y2="929.0" stroke="#000" stroke-width="10.8" stroke-linecap="butt" />
<line x1="1676.4" y1="1032.0" x2="1717.9" y2="1032.0" stroke="#000" stroke-width="10.5" stroke-linecap="butt" />
<line x1="1673.3" y1="1132.0" x2="1714.5" y2="1132.0" stroke="#000" stroke-width="10.2" stroke-linecap="butt" />
<line x1="1670.1" y1="1234.0" x2="1711.0" y2="1234.0" stroke="#000" stroke-width="9.9" stroke-linecap="butt" />
<line x1="1667.0" y1="1334.7" x2="1707.6" y2="1334.7" stroke="#000" stroke-width="9.6" stroke-linecap="butt" />
<line x1="710.0" y1="1635.0" x2="1668.0" y2="1371.0" stroke="#000" stroke-width="12" stroke-linecap="butt" />
<line x1="711.0" y1="1631.7" x2="711.0" y2="1679.7" stroke="#000" stroke-width="13.0" stroke-linecap="butt" />
<line x1="839.0" y1="1596.5" x2="839.0" y2="1643.5" stroke="#000" stroke-width="12.5" stroke-linecap="butt" />
<line x1="958.0" y1="1563.7" x2="958.0" y2="1609.7" stroke="#000" stroke-width="12.0" stroke-linecap="butt" />
<line x1="1079.0" y1="1530.3" x2="1079.0" y2="1575.3" stroke="#000" stroke-width="11.5" stroke-linecap="butt" />
<line x1="1198.0" y1="1497.5" x2="1198.0" y2="1541.5" stroke="#000" stroke-width="11.0" stroke-linecap="butt" />
<line x1="1319.0" y1="1464.2" x2="1319.0" y2="1507.2" stroke="#000" stroke-width="10.5" stroke-linecap="butt" />
<line x1="1433.5" y1="1432.6" x2="1433.5" y2="1474.6" stroke="#000" stroke-width="10.0" stroke-linecap="butt" />
<line x1="1553.0" y1="1399.7" x2="1553.0" y2="1440.7" stroke="#000" stroke-width="9.5" stroke-linecap="butt" />
<line x1="51.0" y1="1057.0" x2="710.0" y2="1635.0" stroke="#000" stroke-width="10.5" stroke-linecap="butt" />
<line x1="58.0" y1="1059.7" x2="18.0" y2="1070.5" stroke="#000" stroke-width="9" stroke-linecap="butt" />
<line x1="92.3" y1="1089.8" x2="52.3" y2="1100.6" stroke="#000" stroke-width="9" stroke-linecap="butt" />
<line x1="127.1" y1="1120.2" x2="87.1" y2="1131.0" stroke="#000" stroke-width="9" stroke-linecap="butt" />
<line x1="162.2" y1="1151.0" x2="122.2" y2="1161.8" stroke="#000" stroke-width="9" stroke-linecap="butt" />
<line x1="197.8" y1="1182.1" x2="157.8" y2="1192.9" stroke="#000" stroke-width="9" stroke-linecap="butt" />
<line x1="233.8" y1="1213.7" x2="193.8" y2="1224.5" stroke="#000" stroke-width="9" stroke-linecap="butt" />
<line x1="270.2" y1="1245.6" x2="230.2" y2="1256.4" stroke="#000" stroke-width="9" stroke-linecap="butt" />
<line x1="307.1" y1="1277.9" x2="267.1" y2="1288.7" stroke="#000" stroke-width="9" stroke-linecap="butt" />
<line x1="344.4" y1="1310.6" x2="304.4" y2="1321.4" stroke="#000" stroke-width="9" stroke-linecap="butt" />
<line x1="382.3" y1="1343.7" x2="342.3" y2="1354.5" stroke="#000" stroke-width="9" stroke-linecap="butt" />
<line x1="420.5" y1="1377.2" x2="380.5" y2="1388.0" stroke="#000" stroke-width="9" stroke-linecap="butt" />
<line x1="459.3" y1="1411.2" x2="419.3" y2="1422.0" stroke="#000" stroke-width="9" stroke-linecap="butt" />
<line x1="498.5" y1="1445.6" x2="458.5" y2="1456.4" stroke="#000" stroke-width="9" stroke-linecap="butt" />
<line x1="538.3" y1="1480.4" x2="498.3" y2="1491.2" stroke="#000" stroke-width="9" stroke-linecap="butt" />
<line x1="578.6" y1="1515.6" x2="538.6" y2="1526.4" stroke="#000" stroke-width="9" stroke-linecap="butt" />
<line x1="619.3" y1="1551.4" x2="579.3" y2="1562.2" stroke="#000" stroke-width="9" stroke-linecap="butt" />
<line x1="660.6" y1="1587.5" x2="620.6" y2="1598.3" stroke="#000" stroke-width="9" stroke-linecap="butt" />
<line x1="702.5" y1="1624.2" x2="662.5" y2="1635.0" stroke="#000" stroke-width="9" stroke-linecap="butt" />
<line x1="93.5" y1="357.8" x2="221.0" y2="357.8" stroke="#000000" stroke-width="17.5" stroke-linecap="round" />
<circle cx="156.7" cy="357.3" r="15.3" fill="#000000"/>
<circle cx="150.8" cy="351.5" r="8" fill="#9a9a9a" opacity="0.75"/><circle cx="150.8" cy="351.5" r="5" fill="#fff" opacity="0.55"/><circle cx="150.8" cy="351.5" r="2.2" fill="#fff"/>
<text transform="translate(274.5 386.0) scale(1 1.035)" font-size="80" text-anchor="start">17°C</text>
<line x1="93.5" y1="469.3" x2="221.0" y2="469.3" stroke="#ff0000" stroke-width="17.5" stroke-linecap="round" />
<circle cx="156.7" cy="468.8" r="15.3" fill="#ff0000"/>
<circle cx="150.8" cy="463.0" r="8" fill="#ffd0d0" opacity="0.75"/><circle cx="150.8" cy="463.0" r="5" fill="#fff" opacity="0.55"/><circle cx="150.8" cy="463.0" r="2.2" fill="#fff"/>
<text transform="translate(274.5 497.5) scale(1 1.035)" font-size="80" text-anchor="start">100°C</text>
<line x1="93.5" y1="581.0" x2="221.0" y2="581.0" stroke="#009000" stroke-width="17.5" stroke-linecap="round" />
<circle cx="156.7" cy="580.5" r="15.3" fill="#009000"/>
<circle cx="150.8" cy="574.7" r="8" fill="#c8ffc8" opacity="0.75"/><circle cx="150.8" cy="574.7" r="5" fill="#fff" opacity="0.55"/><circle cx="150.8" cy="574.7" r="2.2" fill="#fff"/>
<text transform="translate(274.5 609.2) scale(1 1.035)" font-size="80" text-anchor="start">200°C</text>
<line x1="93.5" y1="693.0" x2="221.0" y2="693.0" stroke="#0000ff" stroke-width="17.5" stroke-linecap="round" />
<circle cx="156.7" cy="692.5" r="15.3" fill="#0000ff"/>
<circle cx="150.8" cy="686.7" r="8" fill="#d0d0ff" opacity="0.75"/><circle cx="150.8" cy="686.7" r="5" fill="#fff" opacity="0.55"/><circle cx="150.8" cy="686.7" r="2.2" fill="#fff"/>
<text transform="translate(274.5 721.2) scale(1 1.035)" font-size="80" text-anchor="start">400°C</text>
<line x1="93.5" y1="805.0" x2="221.0" y2="805.0" stroke="#ff00ff" stroke-width="17.5" stroke-linecap="round" />
<circle cx="156.7" cy="804.5" r="15.3" fill="#ff00ff"/>
<circle cx="150.8" cy="798.7" r="8" fill="#ffd8ff" opacity="0.75"/><circle cx="150.8" cy="798.7" r="5" fill="#fff" opacity="0.55"/><circle cx="150.8" cy="798.7" r="2.2" fill="#fff"/>
<text transform="translate(274.5 833.2) scale(1 1.035)" font-size="80" text-anchor="start">600°C</text>
<text transform="translate(1922.7 554.2) scale(1 1.05)" font-size="100.3" text-anchor="end">1.0</text>
<text transform="translate(1914.7 766.2) scale(1 1.05)" font-size="100.3" text-anchor="end">0.5</text>
<text transform="translate(1905.1 974.2) scale(1 1.05)" font-size="100.3" text-anchor="end">0.0</text>
<text transform="translate(1931.4 1176.4) scale(1 1.05)" font-size="100.3" text-anchor="end">-0.5</text>
<text transform="translate(1924.5 1374.8) scale(1 1.05)" font-size="100.3" text-anchor="end">-1.0</text>
<text transform="translate(798.2 1809.4) scale(1 1.05)" font-size="100.3" text-anchor="end"><tspan letter-spacing="4.5">-</tspan>80</text>
<text transform="translate(1044.8 1741.2) scale(1 1.05)" font-size="100.3" text-anchor="end"><tspan letter-spacing="4.5">-</tspan>40</text>
<text transform="translate(1238.5 1670.4) scale(1 1.05)" font-size="100.3" text-anchor="end">0</text>
<text transform="translate(1505.3 1605.0) scale(1 1.05)" font-size="100.3" text-anchor="end">40</text>
<text transform="translate(1741.3 1536.5) scale(1 1.05)" font-size="100.3" text-anchor="end">80</text>
<text transform="translate(1114.0 1789.0) scale(1 1.0)" font-size="100.3" text-anchor="start"><tspan font-style="italic">H</tspan> (Oe)</text>
<text transform="translate(2050.8 1077) rotate(-90) scale(1 1.012)" font-size="100.3"><tspan font-style="italic">M</tspan>/<tspan font-style="italic">M</tspan><tspan font-size="69" dy="28" dx="2">S</tspan></text>
</svg>
</body></html>
